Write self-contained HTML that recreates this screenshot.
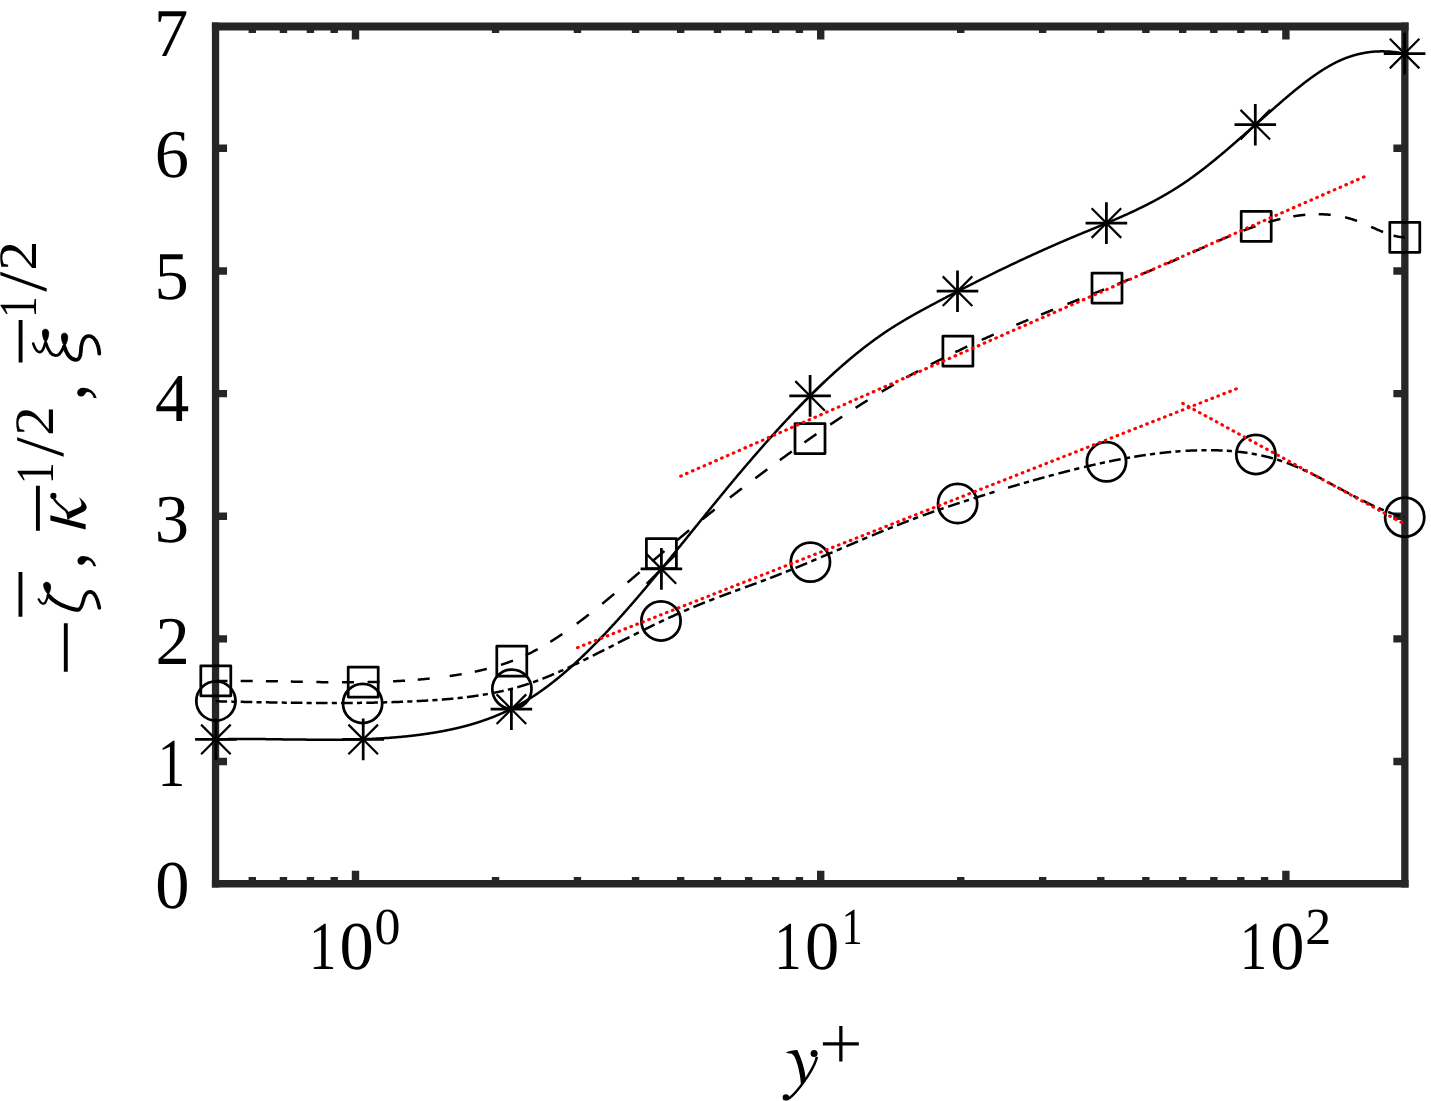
<!DOCTYPE html><html><head><meta charset="utf-8"><style>html,body{margin:0;padding:0;background:#fff;overflow:hidden}svg{display:block;will-change:transform}text{font-family:"Liberation Serif",serif;fill:#000;text-rendering:geometricPrecision}</style></head><body>
<svg width="1431" height="1101" viewBox="0 0 1431 1101">
<rect width="1431" height="1101" fill="#fff"/>
<g>
<path d="M215.55,22.40V887.40M1404.85,22.40V887.40" stroke="#262626" stroke-width="7.3" fill="none"/>
<path d="M211.90,26.45H1408.60" stroke="#262626" stroke-width="8.1" fill="none"/>
<path d="M211.90,883.70H1408.60" stroke="#262626" stroke-width="7.4" fill="none"/>
<path d="M355.50,883.70V870.70M355.50,26.45V39.45M820.70,883.70V870.70M820.70,26.45V39.45M1285.90,883.70V870.70M1285.90,26.45V39.45M252.30,883.70V877.10M252.30,26.45V33.05M283.44,883.70V877.10M283.44,26.45V33.05M310.42,883.70V877.10M310.42,26.45V33.05M334.21,883.70V877.10M334.21,26.45V33.05M495.54,883.70V877.10M495.54,26.45V33.05M577.46,883.70V877.10M577.46,26.45V33.05M635.58,883.70V877.10M635.58,26.45V33.05M680.66,883.70V877.10M680.66,26.45V33.05M717.50,883.70V877.10M717.50,26.45V33.05M748.64,883.70V877.10M748.64,26.45V33.05M775.62,883.70V877.10M775.62,26.45V33.05M799.41,883.70V877.10M799.41,26.45V33.05M960.74,883.70V877.10M960.74,26.45V33.05M1042.66,883.70V877.10M1042.66,26.45V33.05M1100.78,883.70V877.10M1100.78,26.45V33.05M1145.86,883.70V877.10M1145.86,26.45V33.05M1182.70,883.70V877.10M1182.70,26.45V33.05M1213.84,883.70V877.10M1213.84,26.45V33.05M1240.82,883.70V877.10M1240.82,26.45V33.05M1264.61,883.70V877.10M1264.61,26.45V33.05M215.55,761.55H227.05M1404.85,761.55H1393.35M215.55,638.90H227.05M1404.85,638.90H1393.35M215.55,516.25H227.05M1404.85,516.25H1393.35M215.55,393.60H227.05M1404.85,393.60H1393.35M215.55,270.95H227.05M1404.85,270.95H1393.35M215.55,148.30H227.05M1404.85,148.30H1393.35" fill="none" stroke="#262626" stroke-width="7.4"/>
<g fill="none" stroke="#000" stroke-width="2.5" stroke-linejoin="round">
<path d="M215.9,739.4 216.4,739.4 216.9,739.4 217.4,739.4 217.9,739.3 218.4,739.3 218.9,739.3 219.4,739.3 219.9,739.3 220.4,739.3 220.9,739.3 221.4,739.3 221.9,739.3 222.4,739.2 222.9,739.2 223.4,739.2 223.9,739.2 224.4,739.2 224.9,739.2 225.4,739.2 225.9,739.2 226.4,739.2 226.9,739.2 227.4,739.2 227.9,739.2 228.4,739.1 228.9,739.1 229.4,739.1 229.9,739.1 230.4,739.1 230.9,739.1 231.4,739.1 231.9,739.1 232.4,739.1 232.9,739.1 233.4,739.1 233.9,739.1 234.4,739.1 234.9,739.1 235.4,739.1 235.9,739.1 236.4,739.1 236.9,739.1 237.4,739.1 237.9,739.1 238.4,739.1 238.9,739.1 239.4,739.1 239.9,739.0 240.4,739.0 240.9,739.0 241.4,739.0 241.9,739.0 242.4,739.0 242.9,739.0 243.4,739.0 243.9,739.0 244.4,739.0 244.9,739.0 245.4,739.0 245.9,739.0 246.4,739.0 246.9,739.0 247.4,739.0 247.9,739.0 248.4,739.0 248.9,739.0 249.4,739.0 249.9,739.0 250.4,739.0 250.9,739.0 251.4,739.0 251.9,739.1 252.4,739.1 252.9,739.1 253.4,739.1 253.9,739.1 254.4,739.1 254.9,739.1 255.4,739.1 255.9,739.1 256.4,739.1 256.9,739.1 257.4,739.1 257.9,739.1 258.4,739.1 258.9,739.1 259.4,739.1 259.9,739.1 260.4,739.1 260.9,739.1 261.4,739.1 261.9,739.1 262.4,739.1 262.9,739.1 263.4,739.1 263.9,739.1 264.4,739.1 264.9,739.1 265.4,739.1 265.9,739.2 266.4,739.2 266.9,739.2 267.4,739.2 267.9,739.2 268.4,739.2 268.9,739.2 269.4,739.2 269.9,739.2 270.4,739.2 270.9,739.2 271.4,739.2 271.9,739.2 272.4,739.2 272.9,739.2 273.4,739.2 273.9,739.2 274.4,739.2 274.9,739.3 275.4,739.3 275.9,739.3 276.4,739.3 276.9,739.3 277.4,739.3 277.9,739.3 278.4,739.3 278.9,739.3 279.4,739.3 279.9,739.3 280.4,739.3 280.9,739.3 281.4,739.3 281.9,739.3 282.4,739.4 282.9,739.4 283.4,739.4 283.9,739.4 284.4,739.4 284.9,739.4 285.4,739.4 285.9,739.4 286.4,739.4 286.9,739.4 287.4,739.4 287.9,739.4 288.4,739.4 288.9,739.4 289.4,739.4 289.9,739.5 290.4,739.5 290.9,739.5 291.4,739.5 291.9,739.5 292.4,739.5 292.9,739.5 293.4,739.5 293.9,739.5 294.4,739.5 294.9,739.5 295.4,739.5 295.9,739.5 296.4,739.5 296.9,739.5 297.4,739.5 297.9,739.6 298.4,739.6 298.9,739.6 299.4,739.6 299.9,739.6 300.4,739.6 300.9,739.6 301.4,739.6 301.9,739.6 302.4,739.6 302.9,739.6 303.4,739.6 303.9,739.6 304.4,739.6 304.9,739.6 305.4,739.6 305.9,739.6 306.4,739.7 306.9,739.7 307.4,739.7 307.9,739.7 308.4,739.7 308.9,739.7 309.4,739.7 309.9,739.7 310.4,739.7 310.9,739.7 311.4,739.7 311.9,739.7 312.4,739.7 312.9,739.7 313.4,739.7 313.9,739.7 314.4,739.7 314.9,739.7 315.4,739.7 315.9,739.7 316.4,739.7 316.9,739.7 317.4,739.7 317.9,739.7 318.4,739.7 318.9,739.7 319.4,739.8 319.9,739.8 320.4,739.8 320.9,739.8 321.4,739.8 321.9,739.8 322.4,739.8 322.9,739.8 323.4,739.8 323.9,739.8 324.4,739.8 324.9,739.8 325.4,739.8 325.9,739.8 326.4,739.8 326.9,739.8 327.4,739.8 327.9,739.8 328.4,739.8 328.9,739.8 329.4,739.8 329.9,739.8 330.4,739.8 330.9,739.8 331.4,739.8 331.9,739.8 332.4,739.8 332.9,739.8 333.4,739.8 333.9,739.8 334.4,739.7 334.9,739.7 335.4,739.7 335.9,739.7 336.4,739.7 336.9,739.7 337.4,739.7 337.9,739.7 338.4,739.7 338.9,739.7 339.4,739.7 339.9,739.7 340.4,739.7 340.9,739.7 341.4,739.7 341.9,739.7 342.4,739.7 342.9,739.7 343.4,739.7 343.9,739.7 344.4,739.7 344.9,739.6 345.4,739.6 345.9,739.6 346.4,739.6 346.9,739.6 347.4,739.6 347.9,739.6 348.4,739.6 348.9,739.6 349.4,739.6 349.9,739.6 350.4,739.6 350.9,739.5 351.4,739.5 351.9,739.5 352.4,739.5 352.9,739.5 353.4,739.5 353.9,739.5 354.4,739.5 354.9,739.5 355.4,739.4 355.9,739.4 356.4,739.4 356.9,739.4 357.4,739.4 357.9,739.4 358.4,739.4 358.9,739.3 359.4,739.3 359.9,739.3 360.4,739.3 360.9,739.3 361.4,739.3 361.9,739.2 362.4,739.2 362.9,739.2 363.4,739.2 363.9,739.2 364.4,739.2 364.9,739.1 365.4,739.1 365.9,739.1 366.4,739.1 366.9,739.1 367.4,739.0 367.9,739.0 368.4,739.0 368.9,739.0 369.4,739.0 369.9,738.9 370.4,738.9 370.9,738.9 371.4,738.9 371.9,738.9 372.4,738.8 372.9,738.8 373.4,738.8 373.9,738.8 374.4,738.7 374.9,738.7 375.4,738.7 375.9,738.7 376.4,738.6 376.9,738.6 377.4,738.6 377.9,738.6 378.4,738.5 378.9,738.5 379.4,738.5 379.9,738.4 380.4,738.4 380.9,738.4 381.4,738.3 381.9,738.3 382.4,738.3 382.9,738.3 383.4,738.2 383.9,738.2 384.4,738.2 384.9,738.1 385.4,738.1 385.9,738.1 386.4,738.0 386.9,738.0 387.4,738.0 387.9,737.9 388.4,737.9 388.9,737.9 389.4,737.8 389.9,737.8 390.4,737.7 390.9,737.7 391.4,737.7 391.9,737.6 392.4,737.6 392.9,737.6 393.4,737.5 393.9,737.5 394.4,737.4 394.9,737.4 395.4,737.3 395.9,737.3 396.4,737.3 396.9,737.2 397.4,737.2 397.9,737.1 398.4,737.1 398.9,737.0 399.4,737.0 399.9,737.0 400.4,736.9 400.9,736.9 401.4,736.8 401.9,736.8 402.4,736.7 402.9,736.7 403.4,736.6 403.9,736.6 404.4,736.5 404.9,736.5 405.4,736.4 405.9,736.4 406.4,736.3 406.9,736.3 407.4,736.2 407.9,736.2 408.4,736.1 408.9,736.1 409.4,736.0 409.9,735.9 410.4,735.9 410.9,735.8 411.4,735.8 411.9,735.7 412.4,735.7 412.9,735.6 413.4,735.5 413.9,735.5 414.4,735.4 414.9,735.4 415.4,735.3 415.9,735.2 416.4,735.2 416.9,735.1 417.4,735.1 417.9,735.0 418.4,734.9 418.9,734.9 419.4,734.8 419.9,734.7 420.4,734.7 420.9,734.6 421.4,734.5 421.9,734.5 422.4,734.4 422.9,734.3 423.4,734.3 423.9,734.2 424.4,734.1 424.9,734.0 425.4,734.0 425.9,733.9 426.4,733.8 426.9,733.8 427.4,733.7 427.9,733.6 428.4,733.5 428.9,733.5 429.4,733.4 429.9,733.3 430.4,733.2 430.9,733.1 431.4,733.1 431.9,733.0 432.4,732.9 432.9,732.8 433.4,732.7 433.9,732.7 434.4,732.6 434.9,732.5 435.4,732.4 435.9,732.3 436.4,732.2 436.9,732.2 437.4,732.1 437.9,732.0 438.4,731.9 438.9,731.8 439.4,731.7 439.9,731.6 440.4,731.5 440.9,731.5 441.4,731.4 441.9,731.3 442.4,731.2 442.9,731.1 443.4,731.0 443.9,730.9 444.4,730.8 444.9,730.7 445.4,730.6 445.9,730.5 446.4,730.4 446.9,730.3 447.4,730.2 447.9,730.1 448.4,730.0 448.9,729.9 449.4,729.8 449.9,729.7 450.4,729.6 450.9,729.5 451.4,729.4 451.9,729.3 452.4,729.2 452.9,729.1 453.4,728.9 453.9,728.8 454.4,728.7 454.9,728.6 455.4,728.5 455.9,728.4 456.4,728.3 456.9,728.2 457.4,728.0 457.9,727.9 458.4,727.8 458.9,727.7 459.4,727.6 459.9,727.4 460.4,727.3 460.9,727.2 461.4,727.1 461.9,726.9 462.4,726.8 462.9,726.7 463.4,726.6 463.9,726.4 464.4,726.3 464.9,726.2 465.4,726.0 465.9,725.9 466.4,725.8 466.9,725.6 467.4,725.5 467.9,725.4 468.4,725.2 468.9,725.1 469.4,724.9 469.9,724.8 470.4,724.7 470.9,724.5 471.4,724.4 471.9,724.2 472.4,724.1 472.9,723.9 473.4,723.8 473.9,723.6 474.4,723.5 474.9,723.3 475.4,723.2 475.9,723.0 476.4,722.9 476.9,722.7 477.4,722.6 477.9,722.4 478.4,722.2 478.9,722.1 479.4,721.9 479.9,721.7 480.4,721.6 480.9,721.4 481.4,721.3 481.9,721.1 482.4,720.9 482.9,720.7 483.4,720.6 483.9,720.4 484.4,720.2 484.9,720.0 485.4,719.9 485.9,719.7 486.4,719.5 486.9,719.3 487.4,719.2 487.9,719.0 488.4,718.8 488.9,718.6 489.4,718.4 489.9,718.2 490.4,718.0 490.9,717.8 491.4,717.7 491.9,717.5 492.4,717.3 492.9,717.1 493.4,716.9 493.9,716.7 494.4,716.5 494.9,716.3 495.4,716.1 495.9,715.9 496.4,715.7 496.9,715.4 497.4,715.2 497.9,715.0 498.4,714.8 498.9,714.6 499.4,714.4 499.9,714.2 500.4,714.0 500.9,713.7 501.4,713.5 501.9,713.3 502.4,713.1 502.9,712.9 503.4,712.6 503.9,712.4 504.4,712.2 504.9,711.9 505.4,711.7 505.9,711.5 506.4,711.2 506.9,711.0 507.4,710.8 507.9,710.5 508.4,710.3 508.9,710.1 509.4,709.8 509.9,709.6 510.4,709.3 510.9,709.1 511.4,708.8 511.9,708.6 512.4,708.3 512.9,708.1 513.4,707.8 513.9,707.5 514.4,707.3 514.9,707.0 515.4,706.8 515.9,706.5 516.4,706.2 516.9,706.0 517.4,705.7 517.9,705.4 518.4,705.2 518.9,704.9 519.4,704.6 519.9,704.3 520.4,704.0 520.9,703.8 521.4,703.5 521.9,703.2 522.4,702.9 522.9,702.6 523.4,702.3 523.9,702.0 524.4,701.8 524.9,701.5 525.4,701.2 525.9,700.9 526.4,700.6 526.9,700.3 527.4,700.0 527.9,699.7 528.4,699.4 528.9,699.0 529.4,698.7 529.9,698.4 530.4,698.1 530.9,697.8 531.4,697.5 531.9,697.2 532.4,696.8 532.9,696.5 533.4,696.2 533.9,695.9 534.4,695.5 534.9,695.2 535.4,694.9 535.9,694.5 536.4,694.2 536.9,693.9 537.4,693.5 537.9,693.2 538.4,692.8 538.9,692.5 539.4,692.2 539.9,691.8 540.4,691.5 540.9,691.1 541.4,690.8 541.9,690.4 542.4,690.0 542.9,689.7 543.4,689.3 543.9,689.0 544.4,688.6 544.9,688.2 545.4,687.9 545.9,687.5 546.4,687.1 546.9,686.8 547.4,686.4 547.9,686.0 548.4,685.6 548.9,685.3 549.4,684.9 549.9,684.5 550.4,684.1 550.9,683.7 551.4,683.3 551.9,683.0 552.4,682.6 552.9,682.2 553.4,681.8 553.9,681.4 554.4,681.0 554.9,680.6 555.4,680.2 555.9,679.8 556.4,679.4 556.9,679.0 557.4,678.6 557.9,678.2 558.4,677.8 558.9,677.4 559.4,676.9 559.9,676.5 560.4,676.1 560.9,675.7 561.4,675.3 561.9,674.9 562.4,674.4 562.9,674.0 563.4,673.6 563.9,673.2 564.4,672.7 564.9,672.3 565.4,671.9 565.9,671.4 566.4,671.0 566.9,670.6 567.4,670.1 567.9,669.7 568.4,669.3 568.9,668.8 569.4,668.4 569.9,667.9 570.4,667.5 570.9,667.1 571.4,666.6 571.9,666.2 572.4,665.7 572.9,665.3 573.4,664.8 573.9,664.4 574.4,663.9 574.9,663.4 575.4,663.0 575.9,662.5 576.4,662.1 576.9,661.6 577.4,661.1 577.9,660.7 578.4,660.2 578.9,659.7 579.4,659.3 579.9,658.8 580.4,658.3 580.9,657.9 581.4,657.4 581.9,656.9 582.4,656.4 582.9,656.0 583.4,655.5 583.9,655.0 584.4,654.5 584.9,654.0 585.4,653.6 585.9,653.1 586.4,652.6 586.9,652.1 587.4,651.6 587.9,651.1 588.4,650.6 588.9,650.1 589.4,649.6 589.9,649.1 590.4,648.6 590.9,648.2 591.4,647.7 591.9,647.2 592.4,646.7 592.9,646.2 593.4,645.6 593.9,645.1 594.4,644.6 594.9,644.1 595.4,643.6 595.9,643.1 596.4,642.6 596.9,642.1 597.4,641.6 597.9,641.1 598.4,640.6 598.9,640.0 599.4,639.5 599.9,639.0 600.4,638.5 600.9,638.0 601.4,637.5 601.9,636.9 602.4,636.4 602.9,635.9 603.4,635.4 603.9,634.8 604.4,634.3 604.9,633.8 605.4,633.3 605.9,632.7 606.4,632.2 606.9,631.7 607.4,631.1 607.9,630.6 608.4,630.1 608.9,629.5 609.4,629.0 609.9,628.4 610.4,627.9 610.9,627.4 611.4,626.8 611.9,626.3 612.4,625.7 612.9,625.2 613.4,624.7 613.9,624.1 614.4,623.6 614.9,623.0 615.4,622.5 615.9,621.9 616.4,621.4 616.9,620.8 617.4,620.3 617.9,619.7 618.4,619.2 618.9,618.6 619.4,618.1 619.9,617.5 620.4,616.9 620.9,616.4 621.4,615.8 621.9,615.3 622.4,614.7 622.9,614.1 623.4,613.6 623.9,613.0 624.4,612.5 624.9,611.9 625.4,611.3 625.9,610.8 626.4,610.2 626.9,609.6 627.4,609.1 627.9,608.5 628.4,607.9 628.9,607.4 629.4,606.8 629.9,606.2 630.4,605.6 630.9,605.1 631.4,604.5 631.9,603.9 632.4,603.3 632.9,602.8 633.4,602.2 633.9,601.6 634.4,601.0 634.9,600.5 635.4,599.9 635.9,599.3 636.4,598.7 636.9,598.1 637.4,597.6 637.9,597.0 638.4,596.4 638.9,595.8 639.4,595.2 639.9,594.6 640.4,594.1 640.9,593.5 641.4,592.9 641.9,592.3 642.4,591.7 642.9,591.1 643.4,590.5 643.9,589.9 644.4,589.3 644.9,588.8 645.4,588.2 645.9,587.6 646.4,587.0 646.9,586.4 647.4,585.8 647.9,585.2 648.4,584.6 648.9,584.0 649.4,583.4 649.9,582.8 650.4,582.2 650.9,581.6 651.4,581.0 651.9,580.4 652.4,579.8 652.9,579.2 653.4,578.6 653.9,578.0 654.4,577.4 654.9,576.8 655.4,576.2 655.9,575.6 656.4,575.0 656.9,574.4 657.4,573.8 657.9,573.2 658.4,572.6 658.9,572.0 659.4,571.4 659.9,570.8 660.4,570.2 660.9,569.6 661.4,569.0 661.9,568.4 662.4,567.7 662.9,567.1 663.4,566.5 663.9,565.9 664.4,565.3 664.9,564.7 665.4,564.1 665.9,563.5 666.4,562.9 666.9,562.3 667.4,561.7 667.9,561.0 668.4,560.4 668.9,559.8 669.4,559.2 669.9,558.6 670.4,558.0 670.9,557.4 671.4,556.8 671.9,556.1 672.4,555.5 672.9,554.9 673.4,554.3 673.9,553.7 674.4,553.1 674.9,552.5 675.4,551.8 675.9,551.2 676.4,550.6 676.9,550.0 677.4,549.4 677.9,548.8 678.4,548.1 678.9,547.5 679.4,546.9 679.9,546.3 680.4,545.7 680.9,545.1 681.4,544.4 681.9,543.8 682.4,543.2 682.9,542.6 683.4,542.0 683.9,541.4 684.4,540.7 684.9,540.1 685.4,539.5 685.9,538.9 686.4,538.3 686.9,537.6 687.4,537.0 687.9,536.4 688.4,535.8 688.9,535.2 689.4,534.6 689.9,533.9 690.4,533.3 690.9,532.7 691.4,532.1 691.9,531.5 692.4,530.8 692.9,530.2 693.4,529.6 693.9,529.0 694.4,528.4 694.9,527.7 695.4,527.1 695.9,526.5 696.4,525.9 696.9,525.3 697.4,524.7 697.9,524.0 698.4,523.4 698.9,522.8 699.4,522.2 699.9,521.6 700.4,520.9 700.9,520.3 701.4,519.7 701.9,519.1 702.4,518.5 702.9,517.9 703.4,517.2 703.9,516.6 704.4,516.0 704.9,515.4 705.4,514.8 705.9,514.1 706.4,513.5 706.9,512.9 707.4,512.3 707.9,511.7 708.4,511.1 708.9,510.4 709.4,509.8 709.9,509.2 710.4,508.6 710.9,508.0 711.4,507.4 711.9,506.8 712.4,506.1 712.9,505.5 713.4,504.9 713.9,504.3 714.4,503.7 714.9,503.1 715.4,502.5 715.9,501.8 716.4,501.2 716.9,500.6 717.4,500.0 717.9,499.4 718.4,498.8 718.9,498.2 719.4,497.6 719.9,497.0 720.4,496.3 720.9,495.7 721.4,495.1 721.9,494.5 722.4,493.9 722.9,493.3 723.4,492.7 723.9,492.1 724.4,491.5 724.9,490.9 725.4,490.3 725.9,489.7 726.4,489.0 726.9,488.4 727.4,487.8 727.9,487.2 728.4,486.6 728.9,486.0 729.4,485.4 729.9,484.8 730.4,484.2 730.9,483.6 731.4,483.0 731.9,482.4 732.4,481.8 732.9,481.2 733.4,480.6 733.9,480.0 734.4,479.4 734.9,478.8 735.4,478.2 735.9,477.6 736.4,477.0 736.9,476.4 737.4,475.8 737.9,475.2 738.4,474.6 738.9,474.0 739.4,473.4 739.9,472.9 740.4,472.3 740.9,471.7 741.4,471.1 741.9,470.5 742.4,469.9 742.9,469.3 743.4,468.7 743.9,468.1 744.4,467.5 744.9,466.9 745.4,466.4 745.9,465.8 746.4,465.2 746.9,464.6 747.4,464.0 747.9,463.4 748.4,462.8 748.9,462.3 749.4,461.7 749.9,461.1 750.4,460.5 750.9,459.9 751.4,459.3 751.9,458.8 752.4,458.2 752.9,457.6 753.4,457.0 753.9,456.4 754.4,455.9 754.9,455.3 755.4,454.7 755.9,454.1 756.4,453.6 756.9,453.0 757.4,452.4 757.9,451.8 758.4,451.3 758.9,450.7 759.4,450.1 759.9,449.6 760.4,449.0 760.9,448.4 761.4,447.8 761.9,447.3 762.4,446.7 762.9,446.1 763.4,445.6 763.9,445.0 764.4,444.4 764.9,443.9 765.4,443.3 765.9,442.7 766.4,442.2 766.9,441.6 767.4,441.1 767.9,440.5 768.4,439.9 768.9,439.4 769.4,438.8 769.9,438.3 770.4,437.7 770.9,437.1 771.4,436.6 771.9,436.0 772.4,435.5 772.9,434.9 773.4,434.4 773.9,433.8 774.4,433.3 774.9,432.7 775.4,432.1 775.9,431.6 776.4,431.0 776.9,430.5 777.4,430.0 777.9,429.4 778.4,428.9 778.9,428.3 779.4,427.8 779.9,427.2 780.4,426.7 780.9,426.1 781.4,425.6 781.9,425.0 782.4,424.5 782.9,424.0 783.4,423.4 783.9,422.9 784.4,422.3 784.9,421.8 785.4,421.3 785.9,420.7 786.4,420.2 786.9,419.7 787.4,419.1 787.9,418.6 788.4,418.1 788.9,417.5 789.4,417.0 789.9,416.5 790.4,415.9 790.9,415.4 791.4,414.9 791.9,414.3 792.4,413.8 792.9,413.3 793.4,412.8 793.9,412.2 794.4,411.7 794.9,411.2 795.4,410.7 795.9,410.2 796.4,409.6 796.9,409.1 797.4,408.6 797.9,408.1 798.4,407.6 798.9,407.0 799.4,406.5 799.9,406.0 800.4,405.5 800.9,405.0 801.4,404.5 801.9,404.0 802.4,403.5 802.9,402.9 803.4,402.4 803.9,401.9 804.4,401.4 804.9,400.9 805.4,400.4 805.9,399.9 806.4,399.4 806.9,398.9 807.4,398.4 807.9,397.9 808.4,397.4 808.9,396.9 809.4,396.4 809.9,395.9 810.4,395.4 810.9,394.9 811.4,394.4 811.9,393.9 812.4,393.4 812.9,392.9 813.4,392.4 813.9,391.9 814.4,391.4 814.9,391.0 815.4,390.5 815.9,390.0 816.4,389.5 816.9,389.0 817.4,388.5 817.9,388.0 818.4,387.6 818.9,387.1 819.4,386.6 819.9,386.1 820.4,385.6 820.9,385.2 821.4,384.7 821.9,384.2 822.4,383.7 822.9,383.3 823.4,382.8 823.9,382.3 824.4,381.8 824.9,381.4 825.4,380.9 825.9,380.4 826.4,380.0 826.9,379.5 827.4,379.0 827.9,378.6 828.4,378.1 828.9,377.6 829.4,377.2 829.9,376.7 830.4,376.2 830.9,375.8 831.4,375.3 831.9,374.9 832.4,374.4 832.9,374.0 833.4,373.5 833.9,373.0 834.4,372.6 834.9,372.1 835.4,371.7 835.9,371.2 836.4,370.8 836.9,370.3 837.4,369.9 837.9,369.5 838.4,369.0 838.9,368.6 839.4,368.1 839.9,367.7 840.4,367.2 840.9,366.8 841.4,366.4 841.9,365.9 842.4,365.5 842.9,365.1 843.4,364.6 843.9,364.2 844.4,363.8 844.9,363.3 845.4,362.9 845.9,362.5 846.4,362.0 846.9,361.6 847.4,361.2 847.9,360.8 848.4,360.3 848.9,359.9 849.4,359.5 849.9,359.1 850.4,358.6 850.9,358.2 851.4,357.8 851.9,357.4 852.4,357.0 852.9,356.6 853.4,356.2 853.9,355.7 854.4,355.3 854.9,354.9 855.4,354.5 855.9,354.1 856.4,353.7 856.9,353.3 857.4,352.9 857.9,352.5 858.4,352.1 858.9,351.7 859.4,351.3 859.9,350.9 860.4,350.5 860.9,350.1 861.4,349.7 861.9,349.3 862.4,348.9 862.9,348.5 863.4,348.1 863.9,347.7 864.4,347.3 864.9,347.0 865.4,346.6 865.9,346.2 866.4,345.8 866.9,345.4 867.4,345.0 867.9,344.7 868.4,344.3 868.9,343.9 869.4,343.5 869.9,343.2 870.4,342.8 870.9,342.4 871.4,342.0 871.9,341.7 872.4,341.3 872.9,340.9 873.4,340.6 873.9,340.2 874.4,339.8 874.9,339.5 875.4,339.1 875.9,338.7 876.4,338.4 876.9,338.0 877.4,337.7 877.9,337.3 878.4,337.0 878.9,336.6 879.4,336.3 879.9,335.9 880.4,335.5 880.9,335.2 881.4,334.9 881.9,334.5 882.4,334.2 882.9,333.8 883.4,333.5 883.9,333.1 884.4,332.8 884.9,332.5 885.4,332.1 885.9,331.8 886.4,331.4 886.9,331.1 887.4,330.8 887.9,330.4 888.4,330.1 888.9,329.8 889.4,329.5 889.9,329.1 890.4,328.8 890.9,328.5 891.4,328.2 891.9,327.8 892.4,327.5 892.9,327.2 893.4,326.9 893.9,326.6 894.4,326.3 894.9,325.9 895.4,325.6 895.9,325.3 896.4,325.0 896.9,324.7 897.4,324.4 897.9,324.1 898.4,323.8 898.9,323.5 899.4,323.2 899.9,322.9 900.4,322.6 900.9,322.3 901.4,322.0 901.9,321.7 902.4,321.4 902.9,321.1 903.4,320.8 903.9,320.5 904.4,320.2 904.9,319.9 905.4,319.6 905.9,319.3 906.4,319.0 906.9,318.7 907.4,318.4 907.9,318.1 908.4,317.8 908.9,317.5 909.4,317.3 909.9,317.0 910.4,316.7 910.9,316.4 911.4,316.1 911.9,315.8 912.4,315.5 912.9,315.3 913.4,315.0 913.9,314.7 914.4,314.4 914.9,314.1 915.4,313.9 915.9,313.6 916.4,313.3 916.9,313.0 917.4,312.7 917.9,312.5 918.4,312.2 918.9,311.9 919.4,311.6 919.9,311.4 920.4,311.1 920.9,310.8 921.4,310.5 921.9,310.3 922.4,310.0 922.9,309.7 923.4,309.5 923.9,309.2 924.4,308.9 924.9,308.6 925.4,308.4 925.9,308.1 926.4,307.8 926.9,307.6 927.4,307.3 927.9,307.0 928.4,306.8 928.9,306.5 929.4,306.2 929.9,306.0 930.4,305.7 930.9,305.4 931.4,305.2 931.9,304.9 932.4,304.6 932.9,304.4 933.4,304.1 933.9,303.8 934.4,303.6 934.9,303.3 935.4,303.0 935.9,302.8 936.4,302.5 936.9,302.2 937.4,302.0 937.9,301.7 938.4,301.4 938.9,301.2 939.4,300.9 939.9,300.6 940.4,300.4 940.9,300.1 941.4,299.8 941.9,299.6 942.4,299.3 942.9,299.0 943.4,298.8 943.9,298.5 944.4,298.3 944.9,298.0 945.4,297.7 945.9,297.5 946.4,297.2 946.9,296.9 947.4,296.7 947.9,296.4 948.4,296.2 948.9,295.9 949.4,295.6 949.9,295.4 950.4,295.1 950.9,294.9 951.4,294.6 951.9,294.3 952.4,294.1 952.9,293.8 953.4,293.6 953.9,293.3 954.4,293.0 954.9,292.8 955.4,292.5 955.9,292.3 956.4,292.0 956.9,291.7 957.4,291.5 957.9,291.2 958.4,291.0 958.9,290.7 959.4,290.4 959.9,290.2 960.4,289.9 960.9,289.7 961.4,289.4 961.9,289.2 962.4,288.9 962.9,288.7 963.4,288.4 963.9,288.1 964.4,287.9 964.9,287.6 965.4,287.4 965.9,287.1 966.4,286.9 966.9,286.6 967.4,286.4 967.9,286.1 968.4,285.8 968.9,285.6 969.4,285.3 969.9,285.1 970.4,284.8 970.9,284.6 971.4,284.3 971.9,284.1 972.4,283.8 972.9,283.6 973.4,283.3 973.9,283.1 974.4,282.8 974.9,282.6 975.4,282.3 975.9,282.0 976.4,281.8 976.9,281.5 977.4,281.3 977.9,281.0 978.4,280.8 978.9,280.5 979.4,280.3 979.9,280.0 980.4,279.8 980.9,279.5 981.4,279.3 981.9,279.0 982.4,278.8 982.9,278.5 983.4,278.3 983.9,278.0 984.4,277.8 984.9,277.6 985.4,277.3 985.9,277.1 986.4,276.8 986.9,276.6 987.4,276.3 987.9,276.1 988.4,275.8 988.9,275.6 989.4,275.3 989.9,275.1 990.4,274.8 990.9,274.6 991.4,274.3 991.9,274.1 992.4,273.9 992.9,273.6 993.4,273.4 993.9,273.1 994.4,272.9 994.9,272.6 995.4,272.4 995.9,272.1 996.4,271.9 996.9,271.7 997.4,271.4 997.9,271.2 998.4,270.9 998.9,270.7 999.4,270.4 999.9,270.2 1000.4,270.0 1000.9,269.7 1001.4,269.5 1001.9,269.2 1002.4,269.0 1002.9,268.7 1003.4,268.5 1003.9,268.3 1004.4,268.0 1004.9,267.8 1005.4,267.5 1005.9,267.3 1006.4,267.1 1006.9,266.8 1007.4,266.6 1007.9,266.3 1008.4,266.1 1008.9,265.9 1009.4,265.6 1009.9,265.4 1010.4,265.2 1010.9,264.9 1011.4,264.7 1011.9,264.4 1012.4,264.2 1012.9,264.0 1013.4,263.7 1013.9,263.5 1014.4,263.3 1014.9,263.0 1015.4,262.8 1015.9,262.6 1016.4,262.3 1016.9,262.1 1017.4,261.8 1017.9,261.6 1018.4,261.4 1018.9,261.1 1019.4,260.9 1019.9,260.7 1020.4,260.4 1020.9,260.2 1021.4,260.0 1021.9,259.7 1022.4,259.5 1022.9,259.3 1023.4,259.0 1023.9,258.8 1024.4,258.6 1024.9,258.3 1025.4,258.1 1025.9,257.9 1026.4,257.7 1026.9,257.4 1027.4,257.2 1027.9,257.0 1028.4,256.7 1028.9,256.5 1029.4,256.3 1029.9,256.0 1030.4,255.8 1030.9,255.6 1031.4,255.4 1031.9,255.1 1032.4,254.9 1032.9,254.7 1033.4,254.4 1033.9,254.2 1034.4,254.0 1034.9,253.8 1035.4,253.5 1035.9,253.3 1036.4,253.1 1036.9,252.8 1037.4,252.6 1037.9,252.4 1038.4,252.2 1038.9,251.9 1039.4,251.7 1039.9,251.5 1040.4,251.3 1040.9,251.0 1041.4,250.8 1041.9,250.6 1042.4,250.4 1042.9,250.1 1043.4,249.9 1043.9,249.7 1044.4,249.5 1044.9,249.2 1045.4,249.0 1045.9,248.8 1046.4,248.6 1046.9,248.4 1047.4,248.1 1047.9,247.9 1048.4,247.7 1048.9,247.5 1049.4,247.2 1049.9,247.0 1050.4,246.8 1050.9,246.6 1051.4,246.4 1051.9,246.1 1052.4,245.9 1052.9,245.7 1053.4,245.5 1053.9,245.3 1054.4,245.0 1054.9,244.8 1055.4,244.6 1055.9,244.4 1056.4,244.2 1056.9,244.0 1057.4,243.7 1057.9,243.5 1058.4,243.3 1058.9,243.1 1059.4,242.9 1059.9,242.7 1060.4,242.4 1060.9,242.2 1061.4,242.0 1061.9,241.8 1062.4,241.6 1062.9,241.4 1063.4,241.1 1063.9,240.9 1064.4,240.7 1064.9,240.5 1065.4,240.3 1065.9,240.1 1066.4,239.9 1066.9,239.7 1067.4,239.4 1067.9,239.2 1068.4,239.0 1068.9,238.8 1069.4,238.6 1069.9,238.4 1070.4,238.2 1070.9,238.0 1071.4,237.7 1071.9,237.5 1072.4,237.3 1072.9,237.1 1073.4,236.9 1073.9,236.7 1074.4,236.5 1074.9,236.3 1075.4,236.1 1075.9,235.9 1076.4,235.6 1076.9,235.4 1077.4,235.2 1077.9,235.0 1078.4,234.8 1078.9,234.6 1079.4,234.4 1079.9,234.2 1080.4,234.0 1080.9,233.8 1081.4,233.6 1081.9,233.4 1082.4,233.2 1082.9,232.9 1083.4,232.7 1083.9,232.5 1084.4,232.3 1084.9,232.1 1085.4,231.9 1085.9,231.7 1086.4,231.5 1086.9,231.3 1087.4,231.1 1087.9,230.9 1088.4,230.7 1088.9,230.5 1089.4,230.3 1089.9,230.1 1090.4,229.9 1090.9,229.6 1091.4,229.4 1091.9,229.2 1092.4,229.0 1092.9,228.8 1093.4,228.6 1093.9,228.4 1094.4,228.2 1094.9,228.0 1095.4,227.8 1095.9,227.6 1096.4,227.4 1096.9,227.2 1097.4,227.0 1097.9,226.8 1098.4,226.5 1098.9,226.3 1099.4,226.1 1099.9,225.9 1100.4,225.7 1100.9,225.5 1101.4,225.3 1101.9,225.1 1102.4,224.9 1102.9,224.7 1103.4,224.5 1103.9,224.3 1104.4,224.1 1104.9,223.8 1105.4,223.6 1105.9,223.4 1106.4,223.2 1106.9,223.0 1107.4,222.8 1107.9,222.6 1108.4,222.4 1108.9,222.2 1109.4,221.9 1109.9,221.7 1110.4,221.5 1110.9,221.3 1111.4,221.1 1111.9,220.9 1112.4,220.7 1112.9,220.5 1113.4,220.2 1113.9,220.0 1114.4,219.8 1114.9,219.6 1115.4,219.4 1115.9,219.2 1116.4,218.9 1116.9,218.7 1117.4,218.5 1117.9,218.3 1118.4,218.1 1118.9,217.9 1119.4,217.6 1119.9,217.4 1120.4,217.2 1120.9,217.0 1121.4,216.8 1121.9,216.5 1122.4,216.3 1122.9,216.1 1123.4,215.9 1123.9,215.6 1124.4,215.4 1124.9,215.2 1125.4,215.0 1125.9,214.8 1126.4,214.5 1126.9,214.3 1127.4,214.1 1127.9,213.8 1128.4,213.6 1128.9,213.4 1129.4,213.2 1129.9,212.9 1130.4,212.7 1130.9,212.5 1131.4,212.2 1131.9,212.0 1132.4,211.8 1132.9,211.5 1133.4,211.3 1133.9,211.1 1134.4,210.8 1134.9,210.6 1135.4,210.4 1135.9,210.1 1136.4,209.9 1136.9,209.6 1137.4,209.4 1137.9,209.2 1138.4,208.9 1138.9,208.7 1139.4,208.4 1139.9,208.2 1140.4,208.0 1140.9,207.7 1141.4,207.5 1141.9,207.2 1142.4,207.0 1142.9,206.7 1143.4,206.5 1143.9,206.2 1144.4,206.0 1144.9,205.7 1145.4,205.5 1145.9,205.2 1146.4,205.0 1146.9,204.7 1147.4,204.5 1147.9,204.2 1148.4,204.0 1148.9,203.7 1149.4,203.4 1149.9,203.2 1150.4,202.9 1150.9,202.7 1151.4,202.4 1151.9,202.1 1152.4,201.9 1152.9,201.6 1153.4,201.3 1153.9,201.1 1154.4,200.8 1154.9,200.5 1155.4,200.3 1155.9,200.0 1156.4,199.7 1156.9,199.5 1157.4,199.2 1157.9,198.9 1158.4,198.6 1158.9,198.4 1159.4,198.1 1159.9,197.8 1160.4,197.5 1160.9,197.2 1161.4,197.0 1161.9,196.7 1162.4,196.4 1162.9,196.1 1163.4,195.8 1163.9,195.5 1164.4,195.2 1164.9,195.0 1165.4,194.7 1165.9,194.4 1166.4,194.1 1166.9,193.8 1167.4,193.5 1167.9,193.2 1168.4,192.9 1168.9,192.6 1169.4,192.3 1169.9,192.0 1170.4,191.7 1170.9,191.4 1171.4,191.1 1171.9,190.8 1172.4,190.5 1172.9,190.2 1173.4,189.9 1173.9,189.6 1174.4,189.3 1174.9,188.9 1175.4,188.6 1175.9,188.3 1176.4,188.0 1176.9,187.7 1177.4,187.4 1177.9,187.0 1178.4,186.7 1178.9,186.4 1179.4,186.1 1179.9,185.7 1180.4,185.4 1180.9,185.1 1181.4,184.8 1181.9,184.4 1182.4,184.1 1182.9,183.8 1183.4,183.4 1183.9,183.1 1184.4,182.8 1184.9,182.4 1185.4,182.1 1185.9,181.7 1186.4,181.4 1186.9,181.1 1187.4,180.7 1187.9,180.4 1188.4,180.0 1188.9,179.7 1189.4,179.3 1189.9,179.0 1190.4,178.6 1190.9,178.2 1191.4,177.9 1191.9,177.5 1192.4,177.2 1192.9,176.8 1193.4,176.4 1193.9,176.1 1194.4,175.7 1194.9,175.4 1195.4,175.0 1195.9,174.6 1196.4,174.2 1196.9,173.9 1197.4,173.5 1197.9,173.1 1198.4,172.8 1198.9,172.4 1199.4,172.0 1199.9,171.6 1200.4,171.2 1200.9,170.9 1201.4,170.5 1201.9,170.1 1202.4,169.7 1202.9,169.3 1203.4,168.9 1203.9,168.6 1204.4,168.2 1204.9,167.8 1205.4,167.4 1205.9,167.0 1206.4,166.6 1206.9,166.2 1207.4,165.8 1207.9,165.4 1208.4,165.0 1208.9,164.6 1209.4,164.2 1209.9,163.8 1210.4,163.4 1210.9,163.0 1211.4,162.6 1211.9,162.2 1212.4,161.8 1212.9,161.4 1213.4,161.0 1213.9,160.6 1214.4,160.2 1214.9,159.8 1215.4,159.4 1215.9,159.0 1216.4,158.5 1216.9,158.1 1217.4,157.7 1217.9,157.3 1218.4,156.9 1218.9,156.5 1219.4,156.1 1219.9,155.6 1220.4,155.2 1220.9,154.8 1221.4,154.4 1221.9,154.0 1222.4,153.5 1222.9,153.1 1223.4,152.7 1223.9,152.3 1224.4,151.9 1224.9,151.4 1225.4,151.0 1225.9,150.6 1226.4,150.2 1226.9,149.7 1227.4,149.3 1227.9,148.9 1228.4,148.4 1228.9,148.0 1229.4,147.6 1229.9,147.2 1230.4,146.7 1230.9,146.3 1231.4,145.9 1231.9,145.4 1232.4,145.0 1232.9,144.6 1233.4,144.1 1233.9,143.7 1234.4,143.3 1234.9,142.8 1235.4,142.4 1235.9,141.9 1236.4,141.5 1236.9,141.1 1237.4,140.6 1237.9,140.2 1238.4,139.8 1238.9,139.3 1239.4,138.9 1239.9,138.4 1240.4,138.0 1240.9,137.6 1241.4,137.1 1241.9,136.7 1242.4,136.2 1242.9,135.8 1243.4,135.4 1243.9,134.9 1244.4,134.5 1244.9,134.0 1245.4,133.6 1245.9,133.2 1246.4,132.7 1246.9,132.3 1247.4,131.8 1247.9,131.4 1248.4,130.9 1248.9,130.5 1249.4,130.0 1249.9,129.6 1250.4,129.2 1250.9,128.7 1251.4,128.3 1251.9,127.8 1252.4,127.4 1252.9,126.9 1253.4,126.5 1253.9,126.0 1254.4,125.6 1254.9,125.2 1255.4,124.7 1255.9,124.3 1256.4,123.8 1256.9,123.4 1257.4,122.9 1257.9,122.5 1258.4,122.0 1258.9,121.6 1259.4,121.2 1259.9,120.7 1260.4,120.3 1260.9,119.8 1261.4,119.4 1261.9,118.9 1262.4,118.5 1262.9,118.0 1263.4,117.6 1263.9,117.2 1264.4,116.7 1264.9,116.3 1265.4,115.8 1265.9,115.4 1266.4,114.9 1266.9,114.5 1267.4,114.1 1267.9,113.6 1268.4,113.2 1268.9,112.7 1269.4,112.3 1269.9,111.8 1270.4,111.4 1270.9,111.0 1271.4,110.5 1271.9,110.1 1272.4,109.6 1272.9,109.2 1273.4,108.8 1273.9,108.3 1274.4,107.9 1274.9,107.4 1275.4,107.0 1275.9,106.6 1276.4,106.1 1276.9,105.7 1277.4,105.3 1277.9,104.8 1278.4,104.4 1278.9,104.0 1279.4,103.5 1279.9,103.1 1280.4,102.7 1280.9,102.2 1281.4,101.8 1281.9,101.4 1282.4,100.9 1282.9,100.5 1283.4,100.1 1283.9,99.6 1284.4,99.2 1284.9,98.8 1285.4,98.4 1285.9,97.9 1286.4,97.5 1286.9,97.1 1287.4,96.7 1287.9,96.2 1288.4,95.8 1288.9,95.4 1289.4,95.0 1289.9,94.5 1290.4,94.1 1290.9,93.7 1291.4,93.3 1291.9,92.9 1292.4,92.5 1292.9,92.0 1293.4,91.6 1293.9,91.2 1294.4,90.8 1294.9,90.4 1295.4,90.0 1295.9,89.6 1296.4,89.2 1296.9,88.8 1297.4,88.4 1297.9,88.0 1298.4,87.6 1298.9,87.2 1299.4,86.8 1299.9,86.4 1300.4,86.0 1300.9,85.6 1301.4,85.2 1301.9,84.8 1302.4,84.4 1302.9,84.0 1303.4,83.6 1303.9,83.2 1304.4,82.8 1304.9,82.5 1305.4,82.1 1305.9,81.7 1306.4,81.3 1306.9,80.9 1307.4,80.6 1307.9,80.2 1308.4,79.8 1308.9,79.4 1309.4,79.1 1309.9,78.7 1310.4,78.3 1310.9,78.0 1311.4,77.6 1311.9,77.3 1312.4,76.9 1312.9,76.5 1313.4,76.2 1313.9,75.8 1314.4,75.5 1314.9,75.1 1315.4,74.8 1315.9,74.4 1316.4,74.1 1316.9,73.7 1317.4,73.4 1317.9,73.1 1318.4,72.7 1318.9,72.4 1319.4,72.1 1319.9,71.7 1320.4,71.4 1320.9,71.1 1321.4,70.8 1321.9,70.4 1322.4,70.1 1322.9,69.8 1323.4,69.5 1323.9,69.2 1324.4,68.9 1324.9,68.6 1325.4,68.3 1325.9,68.0 1326.4,67.7 1326.9,67.4 1327.4,67.1 1327.9,66.8 1328.4,66.5 1328.9,66.2 1329.4,65.9 1329.9,65.6 1330.4,65.4 1330.9,65.1 1331.4,64.8 1331.9,64.5 1332.4,64.3 1332.9,64.0 1333.4,63.7 1333.9,63.5 1334.4,63.2 1334.9,63.0 1335.4,62.7 1335.9,62.4 1336.4,62.2 1336.9,62.0 1337.4,61.7 1337.9,61.5 1338.4,61.2 1338.9,61.0 1339.4,60.8 1339.9,60.5 1340.4,60.3 1340.9,60.1 1341.4,59.9 1341.9,59.7 1342.4,59.5 1342.9,59.2 1343.4,59.0 1343.9,58.8 1344.4,58.6 1344.9,58.4 1345.4,58.2 1345.9,58.0 1346.4,57.9 1346.9,57.7 1347.4,57.5 1347.9,57.3 1348.4,57.1 1348.9,56.9 1349.4,56.8 1349.9,56.6 1350.4,56.4 1350.9,56.3 1351.4,56.1 1351.9,56.0 1352.4,55.8 1352.9,55.6 1353.4,55.5 1353.9,55.3 1354.4,55.2 1354.9,55.1 1355.4,54.9 1355.9,54.8 1356.4,54.6 1356.9,54.5 1357.4,54.4 1357.9,54.3 1358.4,54.1 1358.9,54.0 1359.4,53.9 1359.9,53.8 1360.4,53.7 1360.9,53.6 1361.4,53.5 1361.9,53.4 1362.4,53.3 1362.9,53.2 1363.4,53.1 1363.9,53.0 1364.4,52.9 1364.9,52.8 1365.4,52.7 1365.9,52.6 1366.4,52.5 1366.9,52.5 1367.4,52.4 1367.9,52.3 1368.4,52.2 1368.9,52.2 1369.4,52.1 1369.9,52.1 1370.4,52.0 1370.9,51.9 1371.4,51.9 1371.9,51.8 1372.4,51.8 1372.9,51.7 1373.4,51.7 1373.9,51.7 1374.4,51.6 1374.9,51.6 1375.4,51.5 1375.9,51.5 1376.4,51.5 1376.9,51.5 1377.4,51.4 1377.9,51.4 1378.4,51.4 1378.9,51.4 1379.4,51.4 1379.9,51.4 1380.4,51.3 1380.9,51.3 1381.4,51.3 1381.9,51.3 1382.4,51.3 1382.9,51.3 1383.4,51.3 1383.9,51.4 1384.4,51.4 1384.9,51.4 1385.4,51.4 1385.9,51.4 1386.4,51.4 1386.9,51.5 1387.4,51.5 1387.9,51.5 1388.4,51.5 1388.9,51.6 1389.4,51.6 1389.9,51.6 1390.4,51.7 1390.9,51.7 1391.4,51.8 1391.9,51.8 1392.4,51.9 1392.9,51.9 1393.4,52.0 1393.9,52.0 1394.4,52.1 1394.9,52.1 1395.4,52.2 1395.9,52.3 1396.4,52.3 1396.9,52.4 1397.4,52.5 1397.9,52.6 1398.4,52.6 1398.9,52.7 1399.4,52.8 1399.9,52.9 1400.4,53.0 1400.9,53.1 1401.4,53.1 1401.9,53.2 1402.4,53.3 1402.9,53.4 1403.4,53.5 1403.9,53.6 1404.4,53.7 1404.6,53.8"/>
<path d="M215.80,681.04 216.30,681.03 216.80,681.03 217.30,681.02 217.80,681.01 218.30,681.00 218.80,681.00 219.30,680.99 219.80,680.98 220.30,680.97 220.80,680.97 221.30,680.96 221.80,680.96 222.30,680.95 222.80,680.95 223.30,680.94 223.80,680.94 224.30,680.93 224.80,680.93 225.30,680.92 225.80,680.92 226.30,680.91 226.80,680.91 227.30,680.91 227.50,680.91M240.70,680.89 240.80,680.89 241.30,680.89 241.80,680.89 242.30,680.89 242.80,680.89 243.30,680.90 243.80,680.90 244.30,680.90 244.80,680.90 245.30,680.91 245.80,680.91 246.30,680.91 246.80,680.92 247.30,680.92 247.80,680.92 248.30,680.93 248.80,680.93 249.30,680.94 249.80,680.94 250.30,680.94 250.80,680.95 251.30,680.95 251.80,680.96 252.30,680.96 252.70,680.97M265.90,681.14 266.30,681.15 266.80,681.15 267.30,681.16 267.80,681.17 268.30,681.18 268.80,681.19 269.30,681.19 269.80,681.20 270.30,681.21 270.80,681.22 271.30,681.23 271.80,681.24 272.30,681.24 272.80,681.25 273.30,681.26 273.80,681.27 274.30,681.28 274.80,681.29 275.30,681.30 275.80,681.31 276.30,681.32 276.80,681.33 277.30,681.33 277.80,681.34 277.90,681.35M290.80,681.59 291.30,681.60 291.80,681.61 292.30,681.62 292.80,681.63 293.30,681.64 293.80,681.65 294.30,681.66 294.80,681.67 295.30,681.68 295.80,681.69 296.30,681.70 296.80,681.71 297.30,681.72 297.80,681.73 298.30,681.74 298.80,681.75 299.30,681.76 299.80,681.77 300.30,681.78 300.80,681.79 301.30,681.80 301.80,681.81 302.30,681.82 302.80,681.83M316.38,682.06 316.80,682.07 317.30,682.08 317.80,682.08 318.30,682.09 318.80,682.10 319.30,682.11 319.80,682.11 320.30,682.12 320.80,682.13 321.30,682.13 321.80,682.14 322.30,682.15 322.80,682.15 323.30,682.16 323.80,682.17 324.30,682.17 324.80,682.18 325.30,682.19 325.80,682.19 326.30,682.20 326.80,682.20 327.30,682.21 327.80,682.21 328.30,682.22 328.38,682.22M341.95,682.31 342.30,682.31 342.80,682.32 343.30,682.32 343.80,682.32 344.30,682.32 344.80,682.32 345.30,682.32 345.80,682.32 346.30,682.32 346.80,682.32 347.30,682.32 347.80,682.32 348.30,682.32 348.80,682.32 349.30,682.32 349.80,682.31 350.30,682.31 350.80,682.31 351.30,682.31 351.80,682.31 352.30,682.30 352.80,682.30 353.30,682.30 353.80,682.30 353.95,682.30M367.53,682.13 367.80,682.13 368.30,682.12 368.80,682.11 369.30,682.10 369.80,682.09 370.30,682.08 370.80,682.06 371.30,682.05 371.80,682.04 372.30,682.03 372.80,682.02 373.30,682.01 373.80,681.99 374.30,681.98 374.80,681.97 375.30,681.96 375.80,681.94 376.30,681.93 376.80,681.91 377.30,681.90 377.80,681.89 378.30,681.87 378.80,681.86 379.30,681.84 379.53,681.83M393.10,681.30 393.30,681.29 393.80,681.26 394.30,681.24 394.80,681.21 395.30,681.19 395.80,681.16 396.30,681.13 396.80,681.11 397.30,681.08 397.80,681.05 398.30,681.03 398.80,681.00 399.30,680.97 399.80,680.94 400.30,680.91 400.80,680.88 401.30,680.85 401.80,680.82 402.30,680.79 402.80,680.76 403.30,680.73 403.80,680.70 404.30,680.67 404.80,680.64 405.10,680.62M417.70,679.67 417.80,679.67 418.30,679.62 418.80,679.58 419.30,679.54 419.80,679.49 420.30,679.45 420.80,679.40 421.30,679.36 421.80,679.31 422.30,679.27 422.80,679.22 423.30,679.17 423.80,679.12 424.30,679.08 424.80,679.03 425.30,678.98 425.80,678.93 426.30,678.88 426.80,678.83 427.30,678.78 427.80,678.73 428.30,678.68 428.80,678.63 429.30,678.57 429.70,678.53M449.70,676.04 449.80,676.03 450.30,675.95 450.80,675.88 451.30,675.81 451.80,675.73 452.30,675.66 452.80,675.58 453.30,675.51 453.80,675.43 454.30,675.35 454.80,675.28 455.30,675.20 455.80,675.12 456.30,675.04 456.80,674.96 457.30,674.88 457.80,674.80 458.30,674.72 458.80,674.64 459.30,674.56 459.80,674.47 460.30,674.39 460.80,674.31 461.30,674.22 461.70,674.15M474.80,671.67 475.30,671.57 475.80,671.46 476.30,671.35 476.80,671.25 477.30,671.14 477.80,671.03 478.30,670.92 478.80,670.81 479.30,670.69 479.80,670.58 480.30,670.47 480.80,670.35 481.30,670.24 481.80,670.12 482.30,670.00 482.80,669.88 483.30,669.76 483.80,669.64 484.30,669.52 484.80,669.40 485.30,669.27 485.80,669.15 486.30,669.02 486.80,668.90M501.00,664.83 501.30,664.74 501.80,664.57 502.30,664.41 502.80,664.25 503.30,664.08 503.80,663.92 504.30,663.75 504.80,663.58 505.30,663.41 505.80,663.24 506.30,663.06 506.80,662.89 507.30,662.71 507.80,662.53 508.30,662.36 508.80,662.18 509.30,661.99 509.80,661.81 510.30,661.63 510.80,661.44 511.30,661.25 511.80,661.07 512.30,660.88 512.80,660.68 513.00,660.61M525.65,655.24 525.80,655.17 526.30,654.94 526.80,654.70 527.30,654.47 527.80,654.23 528.30,653.99 528.80,653.75 529.30,653.50 529.80,653.26 530.30,653.01 530.80,652.76 531.30,652.51 531.80,652.26 532.30,652.00 532.80,651.75 533.30,651.49 533.80,651.23 534.30,650.97 534.80,650.71 535.30,650.45 535.80,650.18 536.30,649.91 536.80,649.65 537.30,649.38 537.65,649.19M550.30,641.82 550.80,641.52 551.30,641.20 551.80,640.89 552.30,640.58 552.80,640.26 553.30,639.95 553.80,639.63 554.30,639.31 554.80,638.99 555.30,638.67 555.80,638.34 556.30,638.02 556.80,637.69 557.30,637.37 557.80,637.04 558.30,636.71 558.80,636.38 559.30,636.05 559.80,635.71 560.30,635.38 560.80,635.04 561.30,634.71 561.80,634.37 562.30,634.03M576.80,623.71 577.30,623.34 577.80,622.97 578.30,622.59 578.80,622.22 579.30,621.84 579.80,621.47 580.30,621.09 580.80,620.71 581.30,620.34 581.80,619.96 582.30,619.58 582.80,619.19 583.30,618.81 583.80,618.43 584.30,618.05 584.80,617.66 585.30,617.28 585.80,616.89 586.30,616.50 586.80,616.11 587.30,615.73 587.80,615.34 588.30,614.95 588.80,614.56M602.20,603.82 602.30,603.74 602.80,603.33 603.30,602.92 603.80,602.51 604.30,602.09 604.80,601.68 605.30,601.27 605.80,600.86 606.30,600.45 606.80,600.03 607.30,599.62 607.80,599.20 608.30,598.79 608.80,598.37 609.30,597.96 609.80,597.54 610.30,597.12 610.80,596.71 611.30,596.29 611.80,595.87 612.30,595.45 612.80,595.03 613.30,594.61 613.80,594.19 614.20,593.86M627.60,582.49 627.80,582.32 628.30,581.90 628.80,581.47 629.30,581.04 629.80,580.61 630.30,580.19 630.80,579.76 631.30,579.33 631.80,578.90 632.30,578.47 632.80,578.05 633.30,577.62 633.80,577.19 634.30,576.76 634.80,576.33 635.30,575.90 635.80,575.48 636.30,575.05 636.80,574.62 637.30,574.19 637.80,573.76 638.30,573.33 638.80,572.91 639.30,572.48 639.60,572.22M652.40,561.27 652.80,560.93 653.30,560.50 653.80,560.07 654.30,559.65 654.80,559.22 655.30,558.79 655.80,558.37 656.30,557.94 656.80,557.51 657.30,557.09 657.80,556.66 658.30,556.24 658.80,555.81 659.30,555.38 659.80,554.96 660.30,554.53 660.80,554.11 661.30,553.68 661.80,553.26 662.30,552.83 662.80,552.41 663.30,551.98 663.80,551.56 664.30,551.14 664.40,551.05M677.20,540.25 677.30,540.16 677.80,539.74 678.30,539.32 678.80,538.90 679.30,538.49 679.80,538.07 680.30,537.65 680.80,537.23 681.30,536.81 681.80,536.39 682.30,535.98 682.80,535.56 683.30,535.14 683.80,534.72 684.30,534.31 684.80,533.89 685.30,533.48 685.80,533.06 686.30,532.64 686.80,532.23 687.30,531.81 687.80,531.40 688.30,530.98 688.80,530.57 689.20,530.24M702.70,519.16 702.80,519.08 703.30,518.67 703.80,518.27 704.30,517.86 704.80,517.45 705.30,517.05 705.80,516.65 706.30,516.24 706.80,515.84 707.30,515.43 707.80,515.03 708.30,514.63 708.80,514.23 709.30,513.82 709.80,513.42 710.30,513.02 710.80,512.62 711.30,512.22 711.80,511.82 712.30,511.42 712.80,511.02 713.30,510.62 713.80,510.22 714.30,509.82 714.70,509.51M729.90,497.58 730.30,497.27 730.80,496.88 731.30,496.49 731.80,496.11 732.30,495.72 732.80,495.33 733.30,494.95 733.80,494.56 734.30,494.18 734.80,493.79 735.30,493.41 735.80,493.03 736.30,492.64 736.80,492.26 737.30,491.88 737.80,491.49 738.30,491.11 738.80,490.73 739.30,490.35 739.80,489.96 740.30,489.58 740.80,489.20 741.30,488.82 741.80,488.44 741.90,488.36M755.30,478.26 755.80,477.88 756.30,477.51 756.80,477.14 757.30,476.76 757.80,476.39 758.30,476.02 758.80,475.65 759.30,475.27 759.80,474.90 760.30,474.53 760.80,474.16 761.30,473.79 761.80,473.41 762.30,473.04 762.80,472.67 763.30,472.30 763.80,471.93 764.30,471.56 764.80,471.19 765.30,470.82 765.80,470.45 766.30,470.08 766.80,469.71 767.30,469.34M779.85,460.12 780.30,459.79 780.80,459.43 781.30,459.07 781.80,458.70 782.30,458.34 782.80,457.97 783.30,457.61 783.80,457.25 784.30,456.88 784.80,456.52 785.30,456.16 785.80,455.80 786.30,455.43 786.80,455.07 787.30,454.71 787.80,454.35 788.30,453.99 788.80,453.63 789.30,453.27 789.80,452.91 790.30,452.54 790.80,452.18 791.30,451.82 791.80,451.47 791.85,451.43M804.40,442.48 804.80,442.20 805.30,441.85 805.80,441.49 806.30,441.14 806.80,440.79 807.30,440.44 807.80,440.08 808.30,439.73 808.80,439.38 809.30,439.03 809.80,438.68 810.30,438.33 810.80,437.98 811.30,437.63 811.80,437.28 812.30,436.93 812.80,436.58 813.30,436.23 813.80,435.89 814.30,435.54 814.80,435.19 815.30,434.84 815.80,434.49 816.30,434.15 816.40,434.08M830.20,424.62 830.30,424.55 830.80,424.22 831.30,423.88 831.80,423.54 832.30,423.20 832.80,422.87 833.30,422.53 833.80,422.19 834.30,421.86 834.80,421.52 835.30,421.19 835.80,420.85 836.30,420.52 836.80,420.18 837.30,419.85 837.80,419.52 838.30,419.18 838.80,418.85 839.30,418.52 839.80,418.18 840.30,417.85 840.80,417.52 841.30,417.19 841.80,416.86 842.20,416.59M855.60,407.87 855.80,407.74 856.30,407.42 856.80,407.10 857.30,406.78 857.80,406.46 858.30,406.14 858.80,405.83 859.30,405.51 859.80,405.19 860.30,404.87 860.80,404.56 861.30,404.24 861.80,403.92 862.30,403.61 862.80,403.29 863.30,402.98 863.80,402.66 864.30,402.35 864.80,402.04 865.30,401.72 865.80,401.41 866.30,401.10 866.80,400.78 867.30,400.47 867.60,400.29M881.70,391.68 881.80,391.62 882.30,391.32 882.80,391.02 883.30,390.72 883.80,390.42 884.30,390.12 884.80,389.83 885.30,389.53 885.80,389.24 886.30,388.94 886.80,388.65 887.30,388.35 887.80,388.06 888.30,387.76 888.80,387.47 889.30,387.18 889.80,386.88 890.30,386.59 890.80,386.30 891.30,386.01 891.80,385.72 892.30,385.43 892.80,385.14 893.30,384.85 893.70,384.62M906.20,377.55 906.30,377.49 906.80,377.22 907.30,376.94 907.80,376.67 908.30,376.39 908.80,376.11 909.30,375.84 909.80,375.56 910.30,375.29 910.80,375.02 911.30,374.74 911.80,374.47 912.30,374.20 912.80,373.93 913.30,373.66 913.80,373.38 914.30,373.11 914.80,372.84 915.30,372.57 915.80,372.30 916.30,372.03 916.80,371.77 917.30,371.50 917.80,371.23 918.20,371.02M930.80,364.41 931.30,364.15 931.80,363.89 932.30,363.63 932.80,363.38 933.30,363.12 933.80,362.87 934.30,362.61 934.80,362.36 935.30,362.10 935.80,361.85 936.30,361.59 936.80,361.34 937.30,361.09 937.80,360.84 938.30,360.58 938.80,360.33 939.30,360.08 939.80,359.83 940.30,359.58 940.80,359.33 941.30,359.08 941.80,358.83 942.30,358.58 942.80,358.33M955.30,352.21 955.80,351.97 956.30,351.73 956.80,351.49 957.30,351.25 957.80,351.01 958.30,350.77 958.80,350.54 959.30,350.30 959.80,350.06 960.30,349.82 960.80,349.58 961.30,349.35 961.80,349.11 962.30,348.87 962.80,348.64 963.30,348.40 963.80,348.17 964.30,347.93 964.80,347.70 965.30,347.46 965.80,347.23 966.30,346.99 966.80,346.76 967.30,346.53M981.70,339.92 981.80,339.87 982.30,339.65 982.80,339.42 983.30,339.20 983.80,338.97 984.30,338.75 984.80,338.53 985.30,338.30 985.80,338.08 986.30,337.86 986.80,337.63 987.30,337.41 987.80,337.19 988.30,336.96 988.80,336.74 989.30,336.52 989.80,336.30 990.30,336.08 990.80,335.86 991.30,335.64 991.80,335.41 992.30,335.19 992.80,334.97 993.30,334.75 993.70,334.58M1016.40,324.81 1016.80,324.65 1017.30,324.44 1017.80,324.23 1018.30,324.02 1018.80,323.81 1019.30,323.60 1019.80,323.39 1020.30,323.18 1020.80,322.97 1021.30,322.76 1021.80,322.55 1022.30,322.34 1022.80,322.13 1023.30,321.92 1023.80,321.71 1024.30,321.51 1024.80,321.30 1025.30,321.09 1025.80,320.88 1026.30,320.68 1026.80,320.47 1027.30,320.26 1027.80,320.05 1028.30,319.85 1028.40,319.81M1041.10,314.59 1041.30,314.51 1041.80,314.31 1042.30,314.11 1042.80,313.90 1043.30,313.70 1043.80,313.50 1044.30,313.29 1044.80,313.09 1045.30,312.89 1045.80,312.69 1046.30,312.48 1046.80,312.28 1047.30,312.08 1047.80,311.88 1048.30,311.67 1048.80,311.47 1049.30,311.27 1049.80,311.07 1050.30,310.87 1050.80,310.66 1051.30,310.46 1051.80,310.26 1052.30,310.06 1052.80,309.86 1053.10,309.74M1067.40,304.01 1067.80,303.85 1068.30,303.65 1068.80,303.45 1069.30,303.25 1069.80,303.06 1070.30,302.86 1070.80,302.66 1071.30,302.46 1071.80,302.26 1072.30,302.06 1072.80,301.86 1073.30,301.66 1073.80,301.46 1074.30,301.26 1074.80,301.07 1075.30,300.87 1075.80,300.67 1076.30,300.47 1076.80,300.27 1077.30,300.07 1077.80,299.87 1078.30,299.67 1078.80,299.48 1079.30,299.28 1079.40,299.24M1092.10,294.20 1092.30,294.12 1092.80,293.92 1093.30,293.72 1093.80,293.52 1094.30,293.32 1094.80,293.12 1095.30,292.93 1095.80,292.73 1096.30,292.53 1096.80,292.33 1097.30,292.13 1097.80,291.93 1098.30,291.73 1098.80,291.53 1099.30,291.33 1099.80,291.14 1100.30,290.94 1100.80,290.74 1101.30,290.54 1101.80,290.34 1102.30,290.14 1102.80,289.94 1103.30,289.74 1103.80,289.54 1104.10,289.42M1117.13,284.21 1117.30,284.14 1117.80,283.94 1118.30,283.74 1118.80,283.54 1119.30,283.34 1119.80,283.14 1120.30,282.94 1120.80,282.74 1121.30,282.53 1121.80,282.33 1122.30,282.13 1122.80,281.93 1123.30,281.73 1123.80,281.53 1124.30,281.32 1124.80,281.12 1125.30,280.92 1125.80,280.72 1126.30,280.51 1126.80,280.31 1127.30,280.11 1127.80,279.91 1128.30,279.70 1128.80,279.50 1129.13,279.37M1142.17,274.03 1142.30,273.98 1142.80,273.77 1143.30,273.56 1143.80,273.36 1144.30,273.15 1144.80,272.94 1145.30,272.74 1145.80,272.53 1146.30,272.32 1146.80,272.11 1147.30,271.91 1147.80,271.70 1148.30,271.49 1148.80,271.28 1149.30,271.07 1149.80,270.87 1150.30,270.66 1150.80,270.45 1151.30,270.24 1151.80,270.03 1152.30,269.82 1152.80,269.61 1153.30,269.40 1153.80,269.19 1154.17,269.04M1167.20,263.50 1167.30,263.46 1167.80,263.24 1168.30,263.03 1168.80,262.81 1169.30,262.60 1169.80,262.38 1170.30,262.17 1170.80,261.95 1171.30,261.73 1171.80,261.52 1172.30,261.30 1172.80,261.08 1173.30,260.87 1173.80,260.65 1174.30,260.43 1174.80,260.21 1175.30,259.99 1175.80,259.78 1176.30,259.56 1176.80,259.34 1177.30,259.12 1177.80,258.90 1178.30,258.68 1178.80,258.46 1179.20,258.28M1192.60,252.32 1192.80,252.23 1193.30,252.01 1193.80,251.78 1194.30,251.56 1194.80,251.34 1195.30,251.11 1195.80,250.89 1196.30,250.66 1196.80,250.44 1197.30,250.21 1197.80,249.99 1198.30,249.77 1198.80,249.54 1199.30,249.32 1199.80,249.09 1200.30,248.87 1200.80,248.65 1201.30,248.42 1201.80,248.20 1202.30,247.98 1202.80,247.75 1203.30,247.53 1203.80,247.31 1204.30,247.08 1204.60,246.95M1218.00,241.04 1218.30,240.91 1218.80,240.70 1219.30,240.48 1219.80,240.27 1220.30,240.05 1220.80,239.84 1221.30,239.62 1221.80,239.41 1222.30,239.19 1222.80,238.98 1223.30,238.77 1223.80,238.55 1224.30,238.34 1224.80,238.13 1225.30,237.92 1225.80,237.71 1226.30,237.50 1226.80,237.29 1227.30,237.08 1227.80,236.87 1228.30,236.66 1228.80,236.45 1229.30,236.24 1229.80,236.04 1230.00,235.95M1243.50,230.58 1243.80,230.47 1244.30,230.28 1244.80,230.09 1245.30,229.90 1245.80,229.71 1246.30,229.53 1246.80,229.34 1247.30,229.16 1247.80,228.97 1248.30,228.79 1248.80,228.60 1249.30,228.42 1249.80,228.24 1250.30,228.06 1250.80,227.88 1251.30,227.70 1251.80,227.52 1252.30,227.35 1252.80,227.17 1253.30,227.00 1253.80,226.82 1254.30,226.65 1254.80,226.47 1255.30,226.30 1255.50,226.23M1268.40,222.13 1268.80,222.02 1269.30,221.87 1269.80,221.73 1270.30,221.59 1270.80,221.45 1271.30,221.31 1271.80,221.17 1272.30,221.03 1272.80,220.89 1273.30,220.76 1273.80,220.62 1274.30,220.49 1274.80,220.36 1275.30,220.23 1275.80,220.10 1276.30,219.97 1276.80,219.84 1277.30,219.71 1277.80,219.59 1278.30,219.47 1278.80,219.34 1279.30,219.22 1279.80,219.10 1280.30,218.98 1280.40,218.96M1293.30,216.36 1293.80,216.27 1294.30,216.19 1294.80,216.11 1295.30,216.04 1295.80,215.96 1296.30,215.88 1296.80,215.81 1297.30,215.74 1297.80,215.67 1298.30,215.60 1298.80,215.53 1299.30,215.47 1299.80,215.40 1300.30,215.34 1300.80,215.28 1301.30,215.22 1301.80,215.16 1302.30,215.10 1302.80,215.05 1303.30,215.00 1303.80,214.95 1304.30,214.90 1304.80,214.85 1305.30,214.80M1318.70,214.22 1318.80,214.22 1319.30,214.22 1319.80,214.23 1320.30,214.24 1320.80,214.25 1321.30,214.26 1321.80,214.27 1322.30,214.29 1322.80,214.31 1323.30,214.33 1323.80,214.35 1324.30,214.38 1324.80,214.40 1325.30,214.43 1325.80,214.46 1326.30,214.50 1326.80,214.53 1327.30,214.57 1327.80,214.61 1328.30,214.65 1328.80,214.69 1329.30,214.74 1329.80,214.78 1330.30,214.83 1330.70,214.88M1345.10,217.34 1345.30,217.38 1345.80,217.51 1346.30,217.63 1346.80,217.76 1347.30,217.89 1347.80,218.02 1348.30,218.15 1348.80,218.29 1349.30,218.43 1349.80,218.57 1350.30,218.72 1350.80,218.86 1351.30,219.01 1351.80,219.17 1352.30,219.32 1352.80,219.48 1353.30,219.64 1353.80,219.80 1354.30,219.97 1354.80,220.13 1355.30,220.30 1355.80,220.48 1356.30,220.65 1356.80,220.83 1357.10,220.94M1371.10,226.79 1371.30,226.88 1371.80,227.11 1372.30,227.33 1372.80,227.56 1373.30,227.78 1373.80,228.00 1374.30,228.23 1374.80,228.45 1375.30,228.67 1375.80,228.90 1376.30,229.12 1376.80,229.34 1377.30,229.56 1377.80,229.78 1378.30,229.99 1378.80,230.21 1379.30,230.42 1379.80,230.64 1380.30,230.85 1380.80,231.06 1381.30,231.27 1381.80,231.48 1382.30,231.68 1382.80,231.89 1383.10,232.01M1393.60,235.62 1393.80,235.68 1394.30,235.81 1394.80,235.94 1395.30,236.06 1395.80,236.18 1396.30,236.29 1396.80,236.40 1397.30,236.51 1397.80,236.61 1398.30,236.71 1398.80,236.80 1399.30,236.88 1399.80,236.96 1400.30,237.04 1400.80,237.11 1401.30,237.17 1401.80,237.23 1402.30,237.29 1402.80,237.33 1403.30,237.37 1403.80,237.41 1404.30,237.44 1404.80,237.46"/>
<path d="M215.90,701.29 216.40,701.30 216.90,701.31 217.40,701.32 217.90,701.33 218.40,701.34 218.90,701.35 219.40,701.36 219.90,701.37 220.40,701.38 220.90,701.39 221.40,701.40 221.90,701.41 222.40,701.42 222.90,701.43 223.40,701.44 223.90,701.45 224.40,701.46 224.90,701.48 225.40,701.49 225.90,701.50 226.40,701.51 226.90,701.52 227.10,701.52M231.30,701.61 231.40,701.61 231.90,701.62 232.40,701.63 232.90,701.64 233.40,701.66 233.90,701.67 234.40,701.68 234.90,701.69 235.40,701.70 235.90,701.71 236.40,701.72M240.70,701.81 240.90,701.81 241.40,701.82 241.90,701.84 242.40,701.85 242.90,701.86 243.40,701.87 243.90,701.88 244.40,701.89 244.90,701.90 245.40,701.91 245.90,701.92 246.40,701.93 246.90,701.94 247.40,701.95 247.90,701.96 248.40,701.97 248.90,701.98 249.40,701.99 249.90,702.00 250.40,702.01 250.90,702.02 251.40,702.03 251.90,702.04 252.30,702.05M256.50,702.14 256.90,702.14 257.40,702.15 257.90,702.16 258.40,702.17 258.90,702.18 259.40,702.19 259.90,702.20 260.40,702.21 260.90,702.22 261.40,702.23 261.60,702.24M265.90,702.32 266.40,702.33 266.90,702.34 267.40,702.35 267.90,702.35 268.40,702.36 268.90,702.37 269.40,702.38 269.90,702.39 270.40,702.40 270.90,702.41 271.40,702.42 271.90,702.43 272.40,702.44 272.90,702.45 273.40,702.45 273.90,702.46 274.40,702.47 274.90,702.48 275.40,702.49 275.90,702.50 276.40,702.51 276.90,702.51 277.40,702.52 277.50,702.52M281.70,702.59 281.90,702.60 282.40,702.60 282.90,702.61 283.40,702.62 283.90,702.63 284.40,702.64 284.90,702.64 285.40,702.65 285.90,702.66 286.40,702.67 286.80,702.67M290.80,702.73 290.90,702.73 291.40,702.74 291.90,702.75 292.40,702.75 292.90,702.76 293.40,702.77 293.90,702.77 294.40,702.78 294.90,702.78 295.40,702.79 295.90,702.80 296.40,702.80 296.90,702.81 297.40,702.82 297.90,702.82 298.40,702.83 298.90,702.83 299.40,702.84 299.90,702.85 300.40,702.85 300.90,702.86 301.40,702.86 301.90,702.87 302.40,702.87 302.40,702.87M306.60,702.92 306.90,702.92 307.40,702.92 307.90,702.93 308.40,702.93 308.90,702.94 309.40,702.94 309.90,702.95 310.40,702.95 310.90,702.95 311.40,702.96 311.70,702.96M315.96,702.99 316.40,702.99 316.90,703.00 317.40,703.00 317.90,703.00 318.40,703.01 318.90,703.01 319.40,703.01 319.90,703.01 320.40,703.02 320.90,703.02 321.40,703.02 321.90,703.02 322.40,703.02 322.90,703.03 323.40,703.03 323.90,703.03 324.40,703.03 324.90,703.03 325.40,703.03 325.90,703.04 326.40,703.04 326.90,703.04 327.40,703.04 327.56,703.04M331.76,703.04 331.90,703.04 332.40,703.04 332.90,703.04 333.40,703.04 333.90,703.04 334.40,703.04 334.90,703.04 335.40,703.04 335.90,703.04 336.40,703.04 336.86,703.04M341.12,703.03 341.40,703.03 341.90,703.02 342.40,703.02 342.90,703.02 343.40,703.02 343.90,703.02 344.40,703.01 344.90,703.01 345.40,703.01 345.90,703.00 346.40,703.00 346.90,703.00 347.40,702.99 347.90,702.99 348.40,702.99 348.90,702.98 349.40,702.98 349.90,702.98 350.40,702.97 350.90,702.97 351.40,702.96 351.90,702.96 352.40,702.95 352.73,702.95M356.93,702.91 357.40,702.90 357.90,702.90 358.40,702.89 358.90,702.88 359.40,702.88 359.90,702.87 360.40,702.86 360.90,702.86 361.40,702.85 361.90,702.84 362.02,702.84M366.29,702.77 366.40,702.77 366.90,702.76 367.40,702.76 367.90,702.75 368.40,702.74 368.90,702.73 369.40,702.72 369.90,702.71 370.40,702.70 370.90,702.69 371.40,702.68 371.90,702.67 372.40,702.66 372.90,702.65 373.40,702.64 373.90,702.63 374.40,702.62 374.90,702.61 375.40,702.60 375.90,702.59 376.40,702.58 376.90,702.57 377.40,702.55 377.89,702.54M382.09,702.44 382.40,702.43 382.90,702.42 383.40,702.40 383.90,702.39 384.40,702.38 384.90,702.36 385.40,702.35 385.90,702.33 386.40,702.32 386.90,702.30 387.19,702.30M391.45,702.17 391.90,702.15 392.40,702.13 392.90,702.12 393.40,702.10 393.90,702.08 394.40,702.07 394.90,702.05 395.40,702.03 395.90,702.02 396.40,702.00 396.90,701.98 397.40,701.96 397.90,701.94 398.40,701.93 398.90,701.91 399.40,701.89 399.90,701.87 400.40,701.85 400.90,701.83 401.40,701.81 401.90,701.79 402.40,701.77 402.90,701.75 403.05,701.75M407.25,701.57 407.40,701.56 407.90,701.54 408.40,701.52 408.90,701.50 409.40,701.48 409.90,701.45 410.40,701.43 410.90,701.41 411.40,701.38 411.90,701.36 412.35,701.34M416.61,701.13 416.90,701.12 417.40,701.09 417.90,701.07 418.40,701.04 418.90,701.01 419.40,700.99 419.90,700.96 420.40,700.94 420.90,700.91 421.40,700.88 421.90,700.85 422.40,700.83 422.90,700.80 423.40,700.77 423.90,700.74 424.40,700.72 424.90,700.69 425.40,700.66 425.90,700.63 426.40,700.60 426.90,700.57 427.40,700.54 427.90,700.51 428.21,700.49M432.41,700.23 432.90,700.20 433.40,700.17 433.90,700.13 434.40,700.10 434.90,700.07 435.40,700.03 435.90,700.00 436.40,699.97 436.90,699.93 437.40,699.90 437.51,699.89M441.77,699.57 441.90,699.56 442.40,699.52 442.90,699.49 443.40,699.45 443.90,699.41 444.40,699.37 444.90,699.33 445.40,699.29 445.90,699.24 446.40,699.20 446.90,699.16 447.40,699.12 447.90,699.08 448.40,699.03 448.90,698.99 449.40,698.94 449.90,698.90 450.40,698.85 450.90,698.81 451.40,698.76 451.90,698.72 452.40,698.67 452.90,698.62 453.38,698.58M457.57,698.16 457.90,698.13 458.40,698.07 458.90,698.02 459.40,697.97 459.90,697.91 460.40,697.86 460.90,697.80 461.40,697.75 461.90,697.69 462.40,697.64 462.67,697.60M466.94,697.10 467.40,697.04 467.90,696.98 468.40,696.91 468.90,696.85 469.40,696.79 469.90,696.72 470.40,696.66 470.90,696.59 471.40,696.52 471.90,696.46 472.40,696.39 472.90,696.32 473.40,696.25 473.90,696.18 474.40,696.11 474.90,696.04 475.40,695.97 475.90,695.89 476.40,695.82 476.90,695.75 477.40,695.67 477.90,695.60 478.40,695.52 478.54,695.50M482.74,694.84 482.90,694.81 483.40,694.73 483.90,694.64 484.40,694.56 484.90,694.48 485.40,694.39 485.90,694.30 486.40,694.22 486.90,694.13 487.40,694.04 487.84,693.96M492.10,693.17 492.40,693.12 492.90,693.02 493.40,692.92 493.90,692.82 494.40,692.72 494.90,692.62 495.40,692.52 495.90,692.42 496.40,692.32 496.90,692.22 497.40,692.11 497.90,692.01 498.40,691.90 498.90,691.80 499.40,691.69 499.90,691.58 500.40,691.47 500.90,691.36 501.40,691.25 501.90,691.14 502.40,691.03 502.90,690.91 503.40,690.80 503.70,690.73M507.90,689.73 508.40,689.61 508.90,689.48 509.40,689.36 509.90,689.23 510.40,689.10 510.90,688.98 511.40,688.85 511.90,688.72 512.40,688.58 512.90,688.45 513.00,688.43M517.26,687.26 517.40,687.22 517.90,687.08 518.40,686.93 518.90,686.79 519.40,686.64 519.90,686.50 520.40,686.35 520.90,686.20 521.40,686.05 521.90,685.90 522.40,685.75 522.90,685.60 523.40,685.44 523.90,685.29 524.40,685.13 524.90,684.97 525.40,684.81 525.90,684.66 526.40,684.49 526.90,684.33 527.40,684.17 527.90,684.01 528.40,683.84 528.86,683.69M533.06,682.25 533.40,682.13 533.90,681.95 534.40,681.77 534.90,681.59 535.40,681.41 535.90,681.23 536.40,681.05 536.90,680.86 537.40,680.68 537.90,680.49 538.16,680.39M542.42,678.77 542.90,678.58 543.40,678.38 543.90,678.19 544.40,677.99 544.90,677.79 545.40,677.59 545.90,677.39 546.40,677.19 546.90,676.98 547.40,676.78 547.90,676.57 548.40,676.37 548.90,676.16 549.40,675.96 549.90,675.75 550.40,675.54 550.90,675.33 551.40,675.12 551.90,674.91 552.40,674.70 552.90,674.48 553.40,674.27 553.90,674.06 554.02,674.00M558.22,672.17 558.40,672.10 558.90,671.88 559.40,671.65 559.90,671.43 560.40,671.21 560.90,670.98 561.40,670.76 561.90,670.53 562.40,670.31 562.90,670.08 563.32,669.89M567.59,667.93 567.90,667.79 568.40,667.55 568.90,667.32 569.40,667.09 569.90,666.85 570.40,666.62 570.90,666.38 571.40,666.15 571.90,665.91 572.40,665.67 572.90,665.44 573.40,665.20 573.90,664.96 574.40,664.72 574.90,664.48 575.40,664.24 575.90,664.00 576.40,663.76 576.90,663.52 577.40,663.28 577.90,663.04 578.40,662.80 578.90,662.56 579.19,662.42M583.39,660.37 583.40,660.36 583.90,660.12 584.40,659.87 584.90,659.62 585.40,659.38 585.90,659.13 586.40,658.88 586.90,658.64 587.40,658.39 587.90,658.14 588.40,657.89 588.49,657.85M592.75,655.72 592.90,655.65 593.40,655.40 593.90,655.15 594.40,654.90 594.90,654.65 595.40,654.40 595.90,654.14 596.40,653.89 596.90,653.64 597.40,653.39 597.90,653.14 598.40,652.88 598.90,652.63 599.40,652.38 599.90,652.13 600.40,651.87 600.90,651.62 601.40,651.37 601.90,651.11 602.40,650.86 602.90,650.61 603.40,650.35 603.90,650.10 604.35,649.87M608.55,647.73 608.90,647.55 609.40,647.30 609.90,647.05 610.40,646.79 610.90,646.54 611.40,646.28 611.90,646.03 612.40,645.77 612.90,645.52 613.40,645.26 613.65,645.13M617.91,642.96 618.40,642.71 618.90,642.45 619.40,642.20 619.90,641.94 620.40,641.69 620.90,641.43 621.40,641.18 621.90,640.92 622.40,640.67 622.90,640.41 623.40,640.16 623.90,639.91 624.40,639.65 624.90,639.40 625.40,639.14 625.90,638.89 626.40,638.63 626.90,638.38 627.40,638.13 627.90,637.87 628.40,637.62 628.90,637.37 629.40,637.11 629.51,637.06M633.71,634.93 633.90,634.84 634.40,634.59 634.90,634.34 635.40,634.09 635.90,633.83 636.40,633.58 636.90,633.33 637.40,633.08 637.90,632.83 638.40,632.58 638.81,632.38M643.08,630.26 643.40,630.09 643.90,629.85 644.40,629.60 644.90,629.35 645.40,629.11 645.90,628.86 646.40,628.62 646.90,628.37 647.40,628.12 647.90,627.88 648.40,627.63 648.90,627.39 649.40,627.15 649.90,626.90 650.40,626.66 650.90,626.42 651.40,626.17 651.90,625.93 652.40,625.69 652.90,625.45 653.40,625.20 653.90,624.96 654.40,624.72 654.68,624.59M658.88,622.58 658.90,622.57 659.40,622.33 659.90,622.09 660.40,621.86 660.90,621.62 661.40,621.38 661.90,621.15 662.40,620.91 662.90,620.68 663.40,620.44 663.90,620.21 663.98,620.17M668.24,618.19 668.40,618.12 668.90,617.89 669.40,617.66 669.90,617.43 670.40,617.20 670.90,616.97 671.40,616.74 671.90,616.51 672.40,616.28 672.90,616.05 673.40,615.83 673.90,615.60 674.40,615.37 674.90,615.15 675.40,614.92 675.90,614.70 676.40,614.47 676.90,614.25 677.40,614.03 677.90,613.80 678.40,613.58 678.90,613.36 679.40,613.13 679.84,612.94M684.04,611.09 684.40,610.94 684.90,610.72 685.40,610.50 685.90,610.29 686.40,610.07 686.90,609.85 687.40,609.64 687.90,609.42 688.40,609.21 688.90,609.00 689.14,608.89M693.40,607.09 693.90,606.88 694.40,606.68 694.90,606.47 695.40,606.26 695.90,606.05 696.40,605.85 696.90,605.64 697.40,605.43 697.90,605.23 698.40,605.02 698.90,604.82 699.40,604.62 699.90,604.41 700.40,604.21 700.90,604.01 701.40,603.81 701.90,603.61 702.40,603.40 702.90,603.20 703.40,603.00 703.90,602.80 704.40,602.61 704.90,602.41 705.00,602.37M709.20,600.72 709.40,600.64 709.90,600.44 710.40,600.25 710.90,600.05 711.40,599.86 711.90,599.67 712.40,599.47 712.90,599.28 713.40,599.09 713.90,598.90 714.30,598.74M719.40,596.81 719.90,596.62 720.40,596.43 720.90,596.24 721.40,596.05 721.90,595.87 722.40,595.68 722.90,595.49 723.40,595.31 723.90,595.12 724.40,594.93 724.90,594.75 725.40,594.56 725.90,594.38 726.40,594.19 726.90,594.00 727.40,593.82 727.90,593.63 728.40,593.45 728.90,593.26 729.40,593.08 729.90,592.90 730.40,592.71 730.90,592.53 731.00,592.49M735.20,590.95 735.40,590.88 735.90,590.69 736.40,590.51 736.90,590.33 737.40,590.14 737.90,589.96 738.40,589.78 738.90,589.60 739.40,589.41 739.90,589.23 740.30,589.08M745.00,587.37 745.40,587.22 745.90,587.04 746.40,586.86 746.90,586.67 747.40,586.49 747.90,586.31 748.40,586.13 748.90,585.94 749.40,585.76 749.90,585.58 750.40,585.39 750.90,585.21 751.40,585.03 751.90,584.84 752.40,584.66 752.90,584.48 753.40,584.29 753.90,584.11 754.40,583.93 754.90,583.74 755.40,583.56 755.90,583.37 756.40,583.19 756.60,583.11M760.80,581.56 760.90,581.52 761.40,581.33 761.90,581.15 762.40,580.96 762.90,580.77 763.40,580.59 763.90,580.40 764.40,580.21 764.90,580.02 765.40,579.84 765.90,579.65M770.10,578.05 770.40,577.94 770.90,577.75 771.40,577.56 771.90,577.36 772.40,577.17 772.90,576.98 773.40,576.79 773.90,576.59 774.40,576.40 774.90,576.21 775.40,576.01 775.90,575.82 776.40,575.62 776.90,575.43 777.40,575.23 777.90,575.04 778.40,574.84 778.90,574.64 779.40,574.45 779.90,574.25 780.40,574.05 780.90,573.85 781.40,573.65 781.70,573.54M785.90,571.86 786.40,571.66 786.90,571.45 787.40,571.25 787.90,571.05 788.40,570.85 788.90,570.65 789.40,570.44 789.90,570.24 790.40,570.04 790.90,569.83 791.00,569.79M795.53,567.93 795.90,567.78 796.40,567.58 796.90,567.37 797.40,567.16 797.90,566.96 798.40,566.75 798.90,566.54 799.40,566.33 799.90,566.12 800.40,565.92 800.90,565.71 801.40,565.50 801.90,565.29 802.40,565.08 802.90,564.87 803.40,564.66 803.90,564.46 804.40,564.25 804.90,564.04 805.40,563.83 805.90,563.62 806.40,563.41 806.90,563.20 807.13,563.10M811.33,561.32 811.40,561.29 811.90,561.08 812.40,560.87 812.90,560.66 813.40,560.45 813.90,560.23 814.40,560.02 814.90,559.81 815.40,559.60 815.90,559.38 816.40,559.17 816.43,559.16M820.97,557.22 821.40,557.04 821.90,556.82 822.40,556.61 822.90,556.39 823.40,556.18 823.90,555.97 824.40,555.75 824.90,555.54 825.40,555.32 825.90,555.11 826.40,554.89 826.90,554.68 827.40,554.47 827.90,554.25 828.40,554.04 828.90,553.82 829.40,553.61 829.90,553.39 830.40,553.18 830.90,552.96 831.40,552.75 831.90,552.53 832.40,552.32 832.57,552.25M836.77,550.44 836.90,550.38 837.40,550.17 837.90,549.96 838.40,549.74 838.90,549.53 839.40,549.31 839.90,549.10 840.40,548.88 840.90,548.67 841.40,548.45 841.87,548.25M846.40,546.31 846.90,546.10 847.40,545.88 847.90,545.67 848.40,545.46 848.90,545.24 849.40,545.03 849.90,544.82 850.40,544.60 850.90,544.39 851.40,544.18 851.90,543.96 852.40,543.75 852.90,543.54 853.40,543.32 853.90,543.11 854.40,542.90 854.90,542.69 855.40,542.47 855.90,542.26 856.40,542.05 856.90,541.84 857.40,541.63 857.90,541.41 858.00,541.37M862.20,539.60 862.40,539.51 862.90,539.30 863.40,539.09 863.90,538.88 864.40,538.67 864.90,538.46 865.40,538.25 865.90,538.04 866.40,537.83 866.90,537.62 867.30,537.45M871.90,535.53 872.40,535.33 872.90,535.12 873.40,534.91 873.90,534.70 874.40,534.49 874.90,534.29 875.40,534.08 875.90,533.87 876.40,533.67 876.90,533.46 877.40,533.25 877.90,533.05 878.40,532.84 878.90,532.64 879.40,532.43 879.90,532.23 880.40,532.02 880.90,531.82 881.40,531.61 881.90,531.41 882.40,531.20 882.90,531.00 883.40,530.79 883.50,530.75M887.70,529.05 887.90,528.97 888.40,528.76 888.90,528.56 889.40,528.36 889.90,528.16 890.40,527.96 890.90,527.76 891.40,527.56 891.90,527.36 892.40,527.16 892.80,527.00M897.10,525.29 897.40,525.17 897.90,524.97 898.40,524.77 898.90,524.58 899.40,524.38 899.90,524.18 900.40,523.99 900.90,523.79 901.40,523.59 901.90,523.40 902.40,523.20 902.90,523.01 903.40,522.81 903.90,522.62 904.40,522.42 904.90,522.23 905.40,522.04 905.90,521.84 906.40,521.65 906.90,521.46 907.40,521.26 907.90,521.07 908.40,520.88 908.70,520.77M912.90,519.17 913.40,518.98 913.90,518.79 914.40,518.60 914.90,518.41 915.40,518.22 915.90,518.04 916.40,517.85 916.90,517.66 917.40,517.47 917.90,517.29 918.00,517.25M922.70,515.52 922.90,515.44 923.40,515.26 923.90,515.08 924.40,514.90 924.90,514.71 925.40,514.53 925.90,514.35 926.40,514.17 926.90,513.99 927.40,513.81 927.90,513.63 928.40,513.45 928.90,513.27 929.40,513.10 929.90,512.92 930.40,512.74 930.90,512.56 931.40,512.38 931.90,512.21 932.40,512.03 932.90,511.86 933.40,511.68 933.90,511.50 934.30,511.36M938.50,509.91 938.90,509.77 939.40,509.60 939.90,509.43 940.40,509.26 940.90,509.09 941.40,508.92 941.90,508.75 942.40,508.58 942.90,508.41 943.40,508.24 943.60,508.17M948.10,506.66 948.40,506.56 948.90,506.40 949.40,506.23 949.90,506.06 950.40,505.90 950.90,505.73 951.40,505.57 951.90,505.40 952.40,505.24 952.90,505.07 953.40,504.91 953.90,504.74 954.40,504.58 954.90,504.42 955.40,504.25 955.90,504.09 956.40,503.92 956.90,503.76 957.40,503.60 957.90,503.43 958.40,503.27 958.90,503.11 959.40,502.94 959.70,502.85M963.90,501.48 964.40,501.32 964.90,501.16 965.40,501.00 965.90,500.84 966.40,500.68 966.90,500.51 967.40,500.35 967.90,500.19 968.40,500.03 968.90,499.87 969.00,499.84M973.60,498.37 973.90,498.27 974.40,498.11 974.90,497.95 975.40,497.79 975.90,497.63 976.40,497.48 976.90,497.32 977.40,497.16 977.90,497.00 978.40,496.84 978.90,496.68 979.40,496.53 979.90,496.37 980.40,496.21 980.90,496.05 981.40,495.90 981.90,495.74 982.40,495.58 982.90,495.43 983.40,495.27 983.90,495.11 984.40,494.96 984.90,494.80 985.20,494.70M989.40,493.40 989.90,493.24 990.40,493.09 990.90,492.93 991.40,492.78 991.90,492.62 992.40,492.47 992.90,492.32 993.40,492.16 993.90,492.01 994.40,491.85 994.50,491.82M1008.10,487.70 1008.40,487.61 1008.90,487.46 1009.40,487.31 1009.90,487.16 1010.40,487.01 1010.90,486.87 1011.40,486.72 1011.90,486.57 1012.40,486.42 1012.90,486.27 1013.40,486.13 1013.90,485.98 1014.40,485.83 1014.90,485.68 1015.40,485.54 1015.90,485.39 1016.40,485.24 1016.90,485.09 1017.40,484.95 1017.90,484.80 1018.40,484.66 1018.90,484.51 1019.40,484.36 1019.70,484.28M1023.90,483.06 1024.40,482.91 1024.90,482.77 1025.40,482.63 1025.90,482.48 1026.40,482.34 1026.90,482.19 1027.40,482.05 1027.90,481.91 1028.40,481.77 1028.90,481.62 1029.00,481.59M1032.90,480.49 1033.40,480.35 1033.90,480.21 1034.40,480.06 1034.90,479.92 1035.40,479.78 1035.90,479.64 1036.40,479.50 1036.90,479.36 1037.40,479.22 1037.90,479.08 1038.40,478.94 1038.90,478.81 1039.40,478.67 1039.90,478.53 1040.40,478.39 1040.90,478.25 1041.40,478.11 1041.90,477.97 1042.40,477.84 1042.90,477.70 1043.40,477.56 1043.90,477.42 1044.40,477.29 1044.50,477.26M1048.70,476.11 1048.90,476.06 1049.40,475.93 1049.90,475.79 1050.40,475.66 1050.90,475.52 1051.40,475.39 1051.90,475.25 1052.40,475.12 1052.90,474.98 1053.40,474.85 1053.80,474.74M1058.40,473.52 1058.90,473.39 1059.40,473.26 1059.90,473.13 1060.40,473.00 1060.90,472.87 1061.40,472.74 1061.90,472.61 1062.40,472.48 1062.90,472.35 1063.40,472.22 1063.90,472.09 1064.40,471.96 1064.90,471.83 1065.40,471.70 1065.90,471.57 1066.40,471.44 1066.90,471.31 1067.40,471.18 1067.90,471.06 1068.40,470.93 1068.90,470.80 1069.40,470.68 1069.90,470.55 1070.00,470.52M1074.20,469.47 1074.40,469.42 1074.90,469.29 1075.40,469.17 1075.90,469.04 1076.40,468.92 1076.90,468.80 1077.40,468.67 1077.90,468.55 1078.40,468.43 1078.90,468.31 1079.30,468.21M1084.00,467.07 1084.40,466.98 1084.90,466.86 1085.40,466.74 1085.90,466.62 1086.40,466.50 1086.90,466.39 1087.40,466.27 1087.90,466.15 1088.40,466.03 1088.90,465.92 1089.40,465.80 1089.90,465.68 1090.40,465.57 1090.90,465.45 1091.40,465.34 1091.90,465.22 1092.40,465.11 1092.90,464.99 1093.40,464.88 1093.90,464.77 1094.40,464.65 1094.90,464.54 1095.40,464.43 1095.60,464.38M1099.80,463.45 1099.90,463.43 1100.40,463.32 1100.90,463.21 1101.40,463.10 1101.90,462.99 1102.40,462.88 1102.90,462.77 1103.40,462.67 1103.90,462.56 1104.40,462.45 1104.90,462.35M1109.10,461.46 1109.40,461.40 1109.90,461.30 1110.40,461.20 1110.90,461.10 1111.40,460.99 1111.90,460.89 1112.40,460.79 1112.90,460.69 1113.40,460.59 1113.90,460.49 1114.40,460.39 1114.90,460.29 1115.40,460.19 1115.90,460.09 1116.40,460.00 1116.90,459.90 1117.40,459.80 1117.90,459.70 1118.40,459.61 1118.90,459.51 1119.40,459.42 1119.90,459.32 1120.40,459.23 1120.70,459.17M1124.90,458.39 1124.90,458.39 1125.40,458.30 1125.90,458.21 1126.40,458.12 1126.90,458.03 1127.40,457.94 1127.90,457.85 1128.40,457.76 1128.90,457.67 1129.40,457.59 1129.90,457.50 1130.00,457.48M1134.20,456.77 1134.40,456.74 1134.90,456.65 1135.40,456.57 1135.90,456.49 1136.40,456.41 1136.90,456.33 1137.40,456.25 1137.90,456.17 1138.40,456.09 1138.90,456.01 1139.40,455.93 1139.90,455.85 1140.40,455.77 1140.90,455.70 1141.40,455.62 1141.90,455.54 1142.40,455.47 1142.90,455.39 1143.40,455.32 1143.90,455.24 1144.40,455.17 1144.90,455.09 1145.40,455.02 1145.80,454.96M1150.00,454.37 1150.40,454.32 1150.90,454.25 1151.40,454.18 1151.90,454.12 1152.40,454.05 1152.90,453.99 1153.40,453.92 1153.90,453.86 1154.40,453.79 1154.90,453.73 1155.10,453.70M1159.60,453.15 1159.90,453.12 1160.40,453.06 1160.90,453.00 1161.40,452.95 1161.90,452.89 1162.40,452.84 1162.90,452.78 1163.40,452.73 1163.90,452.67 1164.40,452.62 1164.90,452.56 1165.40,452.51 1165.90,452.46 1166.40,452.41 1166.90,452.36 1167.40,452.31 1167.90,452.26 1168.40,452.21 1168.90,452.16 1169.40,452.11 1169.90,452.06 1170.40,452.02 1170.90,451.97 1171.20,451.94M1175.40,451.58 1175.40,451.58 1175.90,451.54 1176.40,451.50 1176.90,451.46 1177.40,451.42 1177.90,451.38 1178.40,451.34 1178.90,451.30 1179.40,451.27 1179.90,451.23 1180.40,451.20 1180.50,451.19M1185.60,450.86 1185.90,450.84 1186.40,450.82 1186.90,450.79 1187.40,450.76 1187.90,450.73 1188.40,450.71 1188.90,450.68 1189.40,450.66 1189.90,450.64 1190.40,450.61 1190.90,450.59 1191.40,450.57 1191.90,450.55 1192.40,450.52 1192.90,450.50 1193.40,450.48 1193.90,450.47 1194.40,450.45 1194.90,450.43 1195.40,450.41 1195.90,450.40 1196.40,450.38 1196.90,450.37 1197.20,450.36M1201.40,450.26 1201.40,450.26 1201.90,450.25 1202.40,450.24 1202.90,450.23 1203.40,450.23 1203.90,450.22 1204.40,450.22 1204.90,450.21 1205.40,450.21 1205.90,450.21 1206.40,450.20 1206.50,450.20M1211.00,450.21 1211.40,450.22 1211.90,450.22 1212.40,450.23 1212.90,450.24 1213.40,450.25 1213.90,450.25 1214.40,450.26 1214.90,450.27 1215.40,450.28 1215.90,450.30 1216.40,450.31 1216.90,450.32 1217.40,450.34 1217.90,450.35 1218.40,450.37 1218.90,450.39 1219.40,450.40 1219.90,450.42 1220.40,450.44 1220.90,450.46 1221.40,450.48 1221.90,450.50 1222.40,450.53 1222.60,450.54M1226.80,450.77 1226.90,450.77 1227.40,450.81 1227.90,450.84 1228.40,450.87 1228.90,450.91 1229.40,450.94 1229.90,450.98 1230.40,451.02 1230.90,451.06 1231.40,451.10 1231.90,451.14M1235.90,451.50 1236.40,451.55 1236.90,451.60 1237.40,451.65 1237.90,451.71 1238.40,451.76 1238.90,451.82 1239.40,451.87 1239.90,451.93 1240.40,451.99 1240.90,452.05 1241.40,452.11 1241.90,452.17 1242.40,452.23 1242.90,452.30 1243.40,452.36 1243.90,452.43 1244.40,452.49 1244.90,452.56 1245.40,452.63 1245.90,452.70 1246.40,452.77 1246.90,452.85 1247.40,452.92 1247.50,452.94M1251.70,453.61 1251.90,453.64 1252.40,453.73 1252.90,453.81 1253.40,453.90 1253.90,453.99 1254.40,454.08 1254.90,454.18 1255.40,454.27 1255.90,454.36 1256.40,454.46 1256.80,454.54M1261.30,455.47 1261.40,455.49 1261.90,455.60 1262.40,455.71 1262.90,455.82 1263.40,455.94 1263.90,456.05 1264.40,456.17 1264.90,456.29 1265.40,456.41 1265.90,456.53 1266.40,456.65 1266.90,456.78 1267.40,456.90 1267.90,457.03 1268.40,457.16 1268.90,457.28 1269.40,457.42 1269.90,457.55 1270.40,457.68 1270.90,457.82 1271.40,457.95 1271.90,458.09 1272.40,458.23 1272.90,458.37M1277.10,459.61 1277.40,459.70 1277.90,459.86 1278.40,460.02 1278.90,460.17 1279.40,460.33 1279.90,460.50 1280.40,460.66 1280.90,460.82 1281.40,460.99 1281.90,461.16 1282.20,461.26M1286.70,462.85 1286.90,462.92 1287.40,463.11 1287.90,463.29 1288.40,463.48 1288.90,463.67 1289.40,463.86 1289.90,464.06 1290.40,464.25 1290.90,464.45 1291.40,464.64 1291.90,464.84 1292.40,465.05 1292.90,465.25 1293.40,465.45 1293.90,465.66 1294.40,465.86 1294.90,466.07 1295.40,466.28 1295.90,466.49 1296.40,466.71 1296.90,466.92 1297.40,467.13 1297.90,467.35 1298.30,467.53M1302.50,469.40 1302.90,469.59 1303.40,469.82 1303.90,470.05 1304.40,470.28 1304.90,470.51 1305.40,470.75 1305.90,470.98 1306.40,471.22 1306.90,471.46 1307.40,471.70 1307.60,471.79M1312.10,473.99 1312.40,474.14 1312.90,474.39 1313.40,474.64 1313.90,474.89 1314.40,475.14 1314.90,475.39 1315.40,475.64 1315.90,475.90 1316.40,476.15 1316.90,476.41 1317.40,476.66 1317.90,476.92 1318.40,477.18 1318.90,477.43 1319.40,477.69 1319.90,477.95 1320.40,478.21 1320.90,478.47 1321.40,478.73 1321.90,478.99 1322.40,479.25 1322.90,479.52 1323.40,479.78 1323.70,479.94M1327.90,482.17 1327.90,482.17 1328.40,482.43 1328.90,482.70 1329.40,482.97 1329.90,483.24 1330.40,483.50 1330.90,483.77 1331.40,484.04 1331.90,484.31 1332.40,484.58 1332.90,484.85 1333.00,484.90M1337.50,487.33 1337.90,487.55 1338.40,487.82 1338.90,488.09 1339.40,488.36 1339.90,488.63 1340.40,488.90 1340.90,489.17 1341.40,489.44 1341.90,489.71 1342.40,489.98 1342.90,490.25 1343.40,490.52 1343.90,490.79 1344.40,491.05 1344.90,491.32 1345.40,491.59 1345.90,491.86 1346.40,492.13 1346.90,492.40 1347.40,492.66 1347.90,492.93 1348.40,493.20 1348.90,493.47 1349.10,493.57M1353.30,495.79 1353.40,495.85 1353.90,496.11 1354.40,496.37 1354.90,496.63 1355.40,496.89 1355.90,497.15 1356.40,497.41 1356.90,497.67 1357.40,497.93 1357.90,498.19 1358.40,498.45M1362.80,500.68 1362.90,500.73 1363.40,500.98 1363.90,501.23 1364.40,501.47 1364.90,501.72 1365.40,501.97 1365.90,502.21 1366.40,502.46 1366.90,502.70 1367.40,502.94 1367.90,503.19 1368.40,503.43 1368.90,503.67 1369.40,503.90 1369.90,504.14 1370.40,504.38 1370.90,504.61 1371.40,504.85 1371.90,505.08 1372.40,505.31 1372.90,505.55 1373.40,505.78 1373.90,506.00 1374.40,506.23M1378.60,508.10 1378.90,508.23 1379.40,508.44 1379.90,508.66 1380.40,508.87 1380.90,509.08 1381.40,509.29 1381.90,509.50 1382.40,509.70 1382.90,509.91 1383.40,510.11 1383.70,510.23M1388.10,511.95 1388.40,512.07 1388.90,512.25 1389.40,512.44 1389.90,512.62 1390.40,512.80 1390.90,512.98 1391.40,513.16 1391.90,513.34 1392.40,513.51 1392.90,513.68 1393.40,513.85 1393.90,514.02 1394.40,514.19 1394.90,514.36 1395.40,514.52 1395.90,514.68 1396.40,514.84 1396.90,515.00 1397.40,515.16 1397.90,515.31 1398.40,515.46 1398.90,515.61 1399.40,515.76 1399.70,515.85M1403.90,517.00 1403.90,517.00 1404.40,517.13 1404.50,517.15"/>
</g>
<g fill="none" stroke="#000" stroke-width="2.75" stroke-linejoin="round">
<path d="M195.1,739.4H236.7M215.9,718.6V760.2"/><path stroke-width="2.2" d="M201.1,724.6L230.7,754.2M201.1,754.2L230.7,724.6"/>
<path d="M342.4,739.4H384.0M363.2,718.6V760.2"/><path stroke-width="2.2" d="M348.4,724.6L378.0,754.2M348.4,754.2L378.0,724.6"/>
<path d="M490.6,709.2H532.2M511.4,688.4V730.0"/><path stroke-width="2.2" d="M496.6,694.4L526.2,724.0M496.6,724.0L526.2,694.4"/>
<path d="M640.6,568.9H682.2M661.4,548.1V589.7"/><path stroke-width="2.2" d="M646.6,554.1L676.2,583.7M646.6,583.7L676.2,554.1"/>
<path d="M789.3,395.9H830.9M810.1,375.1V416.7"/><path stroke-width="2.2" d="M795.3,381.1L824.9,410.7M795.3,410.7L824.9,381.1"/>
<path d="M936.7,291.2H978.3M957.5,270.4V312.0"/><path stroke-width="2.2" d="M942.7,276.4L972.3,306.0M942.7,306.0L972.3,276.4"/>
<path d="M1085.6,223.1H1127.2M1106.4,202.3V243.9"/><path stroke-width="2.2" d="M1091.6,208.3L1121.2,237.9M1091.6,237.9L1121.2,208.3"/>
<path d="M1234.5,124.7H1276.1M1255.3,103.9V145.5"/><path stroke-width="2.2" d="M1240.5,109.9L1270.1,139.5M1240.5,139.5L1270.1,109.9"/>
<path d="M1383.8,53.6H1425.4M1404.6,32.8V74.4"/><path stroke-width="2.2" d="M1389.8,38.8L1419.4,68.4M1389.8,68.4L1419.4,38.8"/>
<rect x="200.8" y="665.8" width="30.0" height="30.0"/>
<rect x="348.2" y="667.0" width="30.0" height="30.0"/>
<rect x="496.8" y="646.2" width="30.0" height="30.0"/>
<rect x="646.4" y="538.5" width="30.0" height="30.0"/>
<rect x="795.0" y="423.5" width="30.0" height="30.0"/>
<rect x="942.9" y="336.2" width="30.0" height="30.0"/>
<rect x="1092.0" y="273.0" width="30.0" height="30.0"/>
<rect x="1241.2" y="211.4" width="30.0" height="30.0"/>
<rect x="1389.8" y="222.3" width="30.0" height="30.0"/>
<circle cx="215.9" cy="701.0" r="19.6"/>
<circle cx="362.6" cy="703.4" r="19.6"/>
<circle cx="511.9" cy="689.1" r="19.6"/>
<circle cx="661.0" cy="620.9" r="19.6"/>
<circle cx="810.4" cy="562.1" r="19.6"/>
<circle cx="957.6" cy="503.5" r="19.6"/>
<circle cx="1106.5" cy="461.8" r="19.6"/>
<circle cx="1255.9" cy="454.4" r="19.6"/>
<circle cx="1404.7" cy="517.2" r="19.6"/>
</g>
<g fill="none" stroke="#ff0000" stroke-width="3.1" stroke-linecap="round" stroke-dasharray="0.7 5.67">
<path d="M680.7,476.1L1367.8,175.2"/>
<path d="M577.5,647.6L1240.8,387.1"/>
<path d="M1182.7,403.4L1402.5,523.0"/>
</g>
<text x="155.18" y="907.50" font-size="68.5">0</text>
<text transform="translate(157.84,785.83) scale(0.800,1)" font-size="68.5">1</text>
<text x="155.56" y="664.16" font-size="68.5">2</text>
<text x="154.87" y="542.49" font-size="68.5">3</text>
<text x="155.04" y="420.82" font-size="68.5">4</text>
<text x="154.52" y="299.15" font-size="68.5">5</text>
<text x="154.72" y="177.48" font-size="68.5">6</text>
<text x="153.90" y="55.81" font-size="68.5">7</text>
<text transform="translate(309.09,968.80) scale(0.800,1)" font-size="68.5">1</text>
<text x="339.57" y="968.80" font-size="68.5">0</text>
<text x="374.45" y="943.80" font-size="52.0">0</text>
<text transform="translate(774.19,968.80) scale(0.800,1)" font-size="68.5">1</text>
<text x="804.92" y="968.80" font-size="68.5">0</text>
<text transform="translate(841.82,943.80) scale(0.800,1)" font-size="52.0">1</text>
<text transform="translate(1239.64,968.80) scale(0.800,1)" font-size="68.5">1</text>
<text x="1270.17" y="968.80" font-size="68.5">0</text>
<text x="1305.29" y="943.80" font-size="52.0">2</text>
<g fill="#000"><circle cx="814.1" cy="1053.5" r="3.5"/><circle cx="785.9" cy="1097.4" r="3.2"/><path d="M785.9,1052.4 C789,1051.2 793,1050.3 797.3,1050.0 C799.5,1054.5 801.8,1060.5 803.4,1066.4 C804.6,1070.5 805.4,1075 805.6,1078.8 L800.9,1085.5 C800.7,1080 800,1075.5 799.4,1073 C798.1,1066 796.6,1061 794.9,1057.5 C793.9,1055.5 792.6,1054.1 790.8,1053.6 C789.1,1053.2 787.4,1053.2 785.9,1052.4 Z"/><path d="M816.8,1056.8 C816.3,1062 812.2,1069 807.6,1076.4 C803.2,1083 798.2,1090 792.6,1095.4 C790.6,1097.3 788.9,1098.5 787.5,1099" fill="none" stroke="#000" stroke-width="2.5"/></g>
<path d="M822.9,1043.8H858.8M840.85,1025.9V1061.6" stroke="#000" stroke-width="3.3" fill="none"/>
<path d="M65.8,623.3V671.7M20.45,572V616.8M37.9,485.7V530.7M20.6,320V362.6" stroke="#000" stroke-width="3.9" fill="none"/>
<g fill="none" stroke="#000" stroke-linecap="round"><path d="M48.3,594.6 C45,591 43.2,587 43.7,584.3 C44.3,581.8 47.8,581.6 49.6,583.6 C51.3,585.8 51,590 48.3,594.6 Z" fill="#000" stroke-width="0.8"/><path d="M38.7,599.3 C40.6,603.6 43.8,604.9 45.4,602.3 C46.8,600 47.7,597.2 48.2,594.3" stroke-width="2.2"/><path d="M48.6,595.6 C53,600.6 60,604.9 67.5,607.4 C72,608.9 75.5,610.1 78.6,609.6" stroke-width="4.0"/><path d="M78.6,609.6 C81.6,608.4 82.6,603.2 83.9,598.6 C85.1,594.6 87.6,591.6 90.6,591.9 C94,592.3 97.3,598 99.4,607.8" stroke-width="3.6"/></g>
<text transform="translate(85.24,568.68) rotate(-90) scale(0.6782,0.7320)" font-size="100">,</text>
<g fill="#000"><path d="M50.4,515.3 L85.6,524.2 L85.6,529.4 L50.4,520.6 Z"/><circle cx="53.4" cy="495.9" r="3.1"/><path d="M53.2,497.6 C56,503.6 62,507 66,510.6 C68,512.6 68.5,516 68.3,519.5" fill="none" stroke="#000" stroke-width="2.4"/><path d="M67.2,512.2 C72,510.4 77,508.5 79.8,507 C82,505.8 82.2,503.2 79,497.3 C83.6,500.8 86.6,504.4 86.7,507.4 C86.7,510 84,511.6 80.6,513.1 L69.5,518.6 Z"/></g>
<text transform="translate(52.60,484.37) rotate(-90) scale(0.4403,0.5362)" font-size="100">1</text>
<text transform="translate(63.12,456.80) rotate(-90) scale(0.7055,0.6966)" font-size="100">/</text>
<text transform="translate(53.10,435.70) rotate(-90) scale(0.5912,0.5558)" font-size="100">2</text>
<text transform="translate(85.02,400.58) rotate(-90) scale(0.6782,0.7592)" font-size="100">,</text>
<g fill="none" stroke="#000" stroke-linecap="round"><path d="M33.2,343.6 C35,349 37.5,352.4 40,352.1 C42.5,351.8 44,347.8 45.2,343.3" stroke-width="2.7"/><path d="M45.6,342.6 C43,339 42.2,334.5 42.5,331.6 C42.9,328.9 46.4,328.4 48,330.5 C49.4,332.5 48.8,337.6 45.6,342.6 Z" fill="#000" stroke-width="0.8"/><path d="M45.8,342.8 C48,350 51.5,355.6 55.6,355.6 C59.2,355.6 62,351.2 63.9,346.2" stroke-width="3.0"/><path d="M64.6,346.4 C62,342.8 61.2,338.5 61.5,335.5 C61.9,332.9 65.4,332.3 67,334.4 C68.4,336.4 67.8,341.5 64.6,346.4 Z" fill="#000" stroke-width="0.8"/><path d="M64.4,346.6 C66.6,354 70.6,359.5 76,359.8 C79.6,360 80.6,356 80.9,351 C81.1,345 82.1,339.6 85.6,337 C88.6,335 92.6,336.2 95.6,340.5 C97.8,344 99,349 99.3,353.6" stroke-width="3.8"/></g>
<text transform="translate(36.10,317.74) rotate(-90) scale(0.4261,0.5378)" font-size="100">1</text>
<text transform="translate(46.32,291.80) rotate(-90) scale(0.7199,0.6936)" font-size="100">/</text>
<text transform="translate(36.10,270.73) rotate(-90) scale(0.5987,0.5407)" font-size="100">2</text>
</g>
</svg></body></html>
